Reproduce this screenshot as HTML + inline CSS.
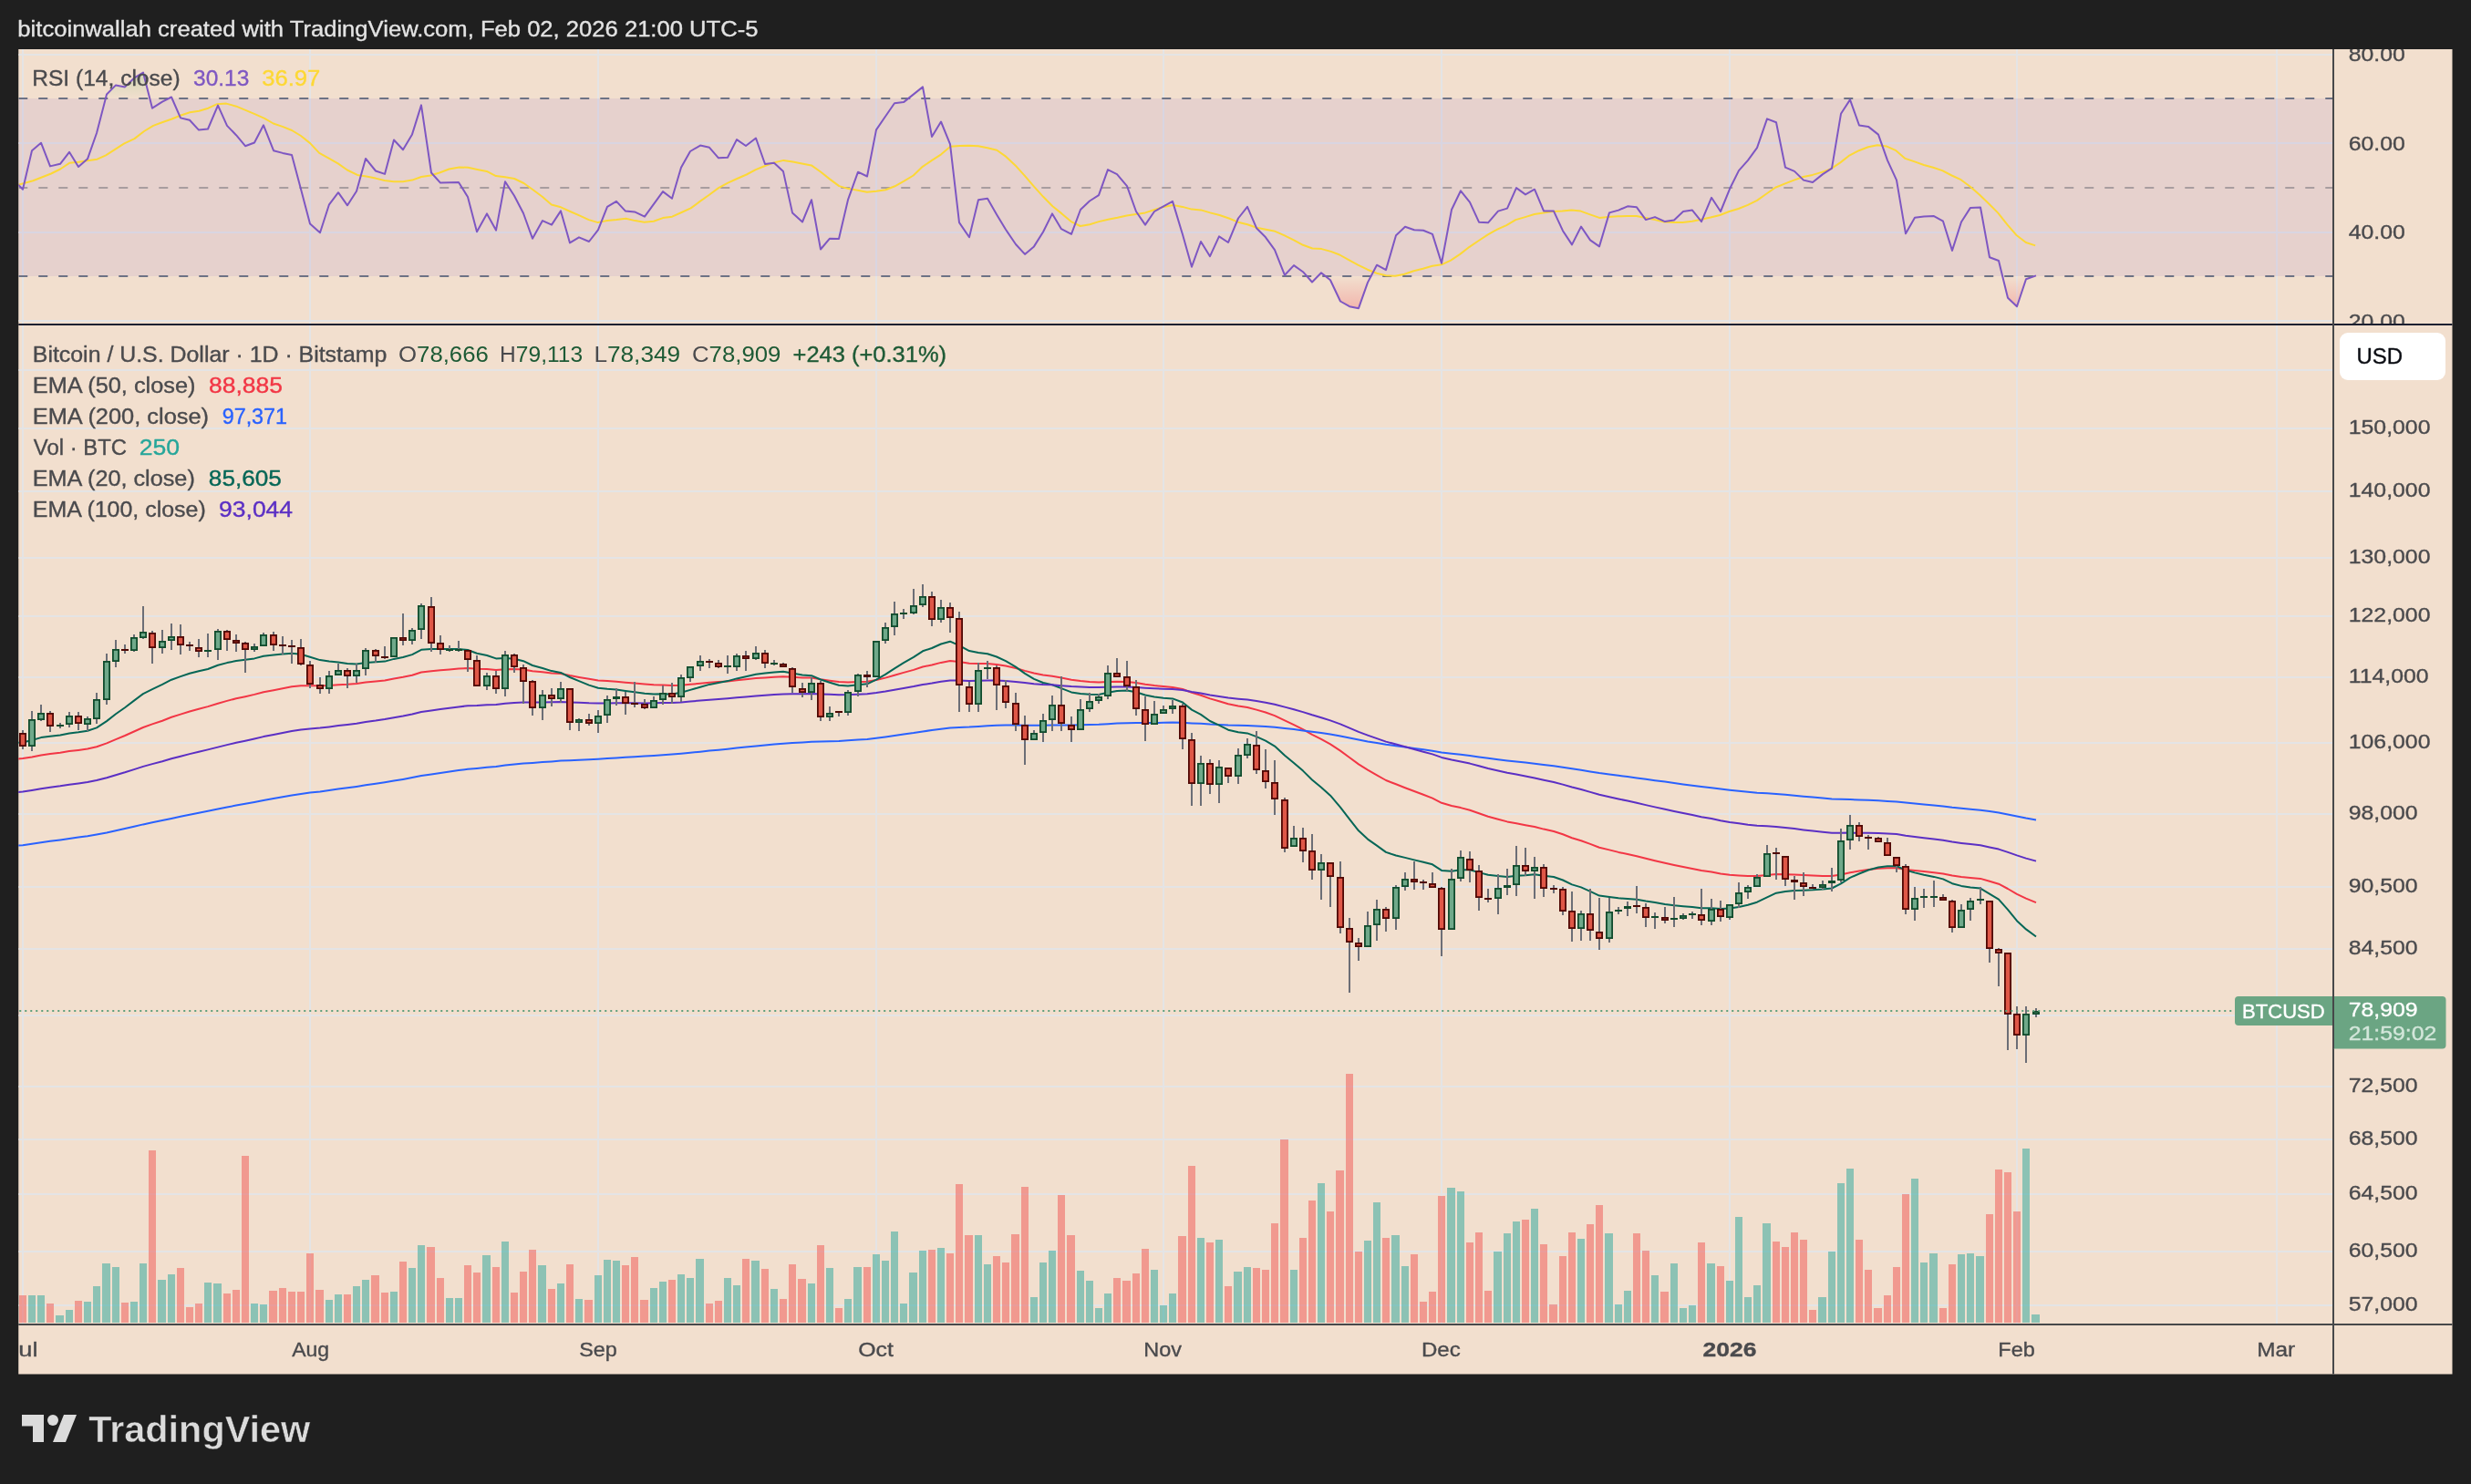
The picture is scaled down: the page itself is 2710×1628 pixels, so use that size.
<!DOCTYPE html>
<html><head><meta charset="utf-8"><title>BTCUSD</title><style>html,body{margin:0;padding:0;background:#1f1f1f;overflow:hidden}body{width:2710px;height:1628px;font-family:"Liberation Sans",sans-serif}</style></head><body>
<svg width="2710" height="1628" viewBox="0 0 2710 1628" style="display:block">
<rect x="0" y="0" width="2710" height="1628" fill="#1f1f1f"/>
<rect x="20.25" y="54" width="2669.25" height="1453.5" fill="#f2dfce"/>
<defs><clipPath id="cp"><rect x="20.25" y="54" width="2537.75" height="1399"/></clipPath><clipPath id="cr"><rect x="20.25" y="54" width="2537.75" height="301"/></clipPath><clipPath id="cm"><rect x="20.25" y="357" width="2537.75" height="1095"/></clipPath><clipPath id="ca"><rect x="2560" y="54" width="129.5" height="301"/></clipPath><clipPath id="ct"><rect x="20.25" y="1453" width="2538.75" height="54.5"/></clipPath></defs>
<g clip-path="url(#cr)">
<rect x="20.25" y="59" width="2538.75" height="2" fill="#e4e4e5"/>
<rect x="20.25" y="156" width="2538.75" height="2" fill="#e4e4e5"/>
<rect x="20.25" y="254" width="2538.75" height="2" fill="#e4e4e5"/>
<rect x="20.25" y="351" width="2538.75" height="2" fill="#e4e4e5"/>
</g>
<g clip-path="url(#cp)">
<rect x="24" y="54" width="2" height="1399" fill="#e4e4e5"/>
<rect x="339" y="54" width="2" height="1399" fill="#e4e4e5"/>
<rect x="655" y="54" width="2" height="1399" fill="#e4e4e5"/>
<rect x="960" y="54" width="2" height="1399" fill="#e4e4e5"/>
<rect x="1275" y="54" width="2" height="1399" fill="#e4e4e5"/>
<rect x="1580" y="54" width="2" height="1399" fill="#e4e4e5"/>
<rect x="1896" y="54" width="2" height="1399" fill="#e4e4e5"/>
<rect x="2211" y="54" width="2" height="1399" fill="#e4e4e5"/>
<rect x="2496" y="54" width="2" height="1399" fill="#e4e4e5"/>
</g>
<g clip-path="url(#cm)">
<rect x="20.25" y="405" width="2538.75" height="2" fill="#e4e4e5"/>
<rect x="20.25" y="469" width="2538.75" height="2" fill="#e4e4e5"/>
<rect x="20.25" y="538" width="2538.75" height="2" fill="#e4e4e5"/>
<rect x="20.25" y="611" width="2538.75" height="2" fill="#e4e4e5"/>
<rect x="20.25" y="675" width="2538.75" height="2" fill="#e4e4e5"/>
<rect x="20.25" y="742" width="2538.75" height="2" fill="#e4e4e5"/>
<rect x="20.25" y="814" width="2538.75" height="2" fill="#e4e4e5"/>
<rect x="20.25" y="892" width="2538.75" height="2" fill="#e4e4e5"/>
<rect x="20.25" y="972" width="2538.75" height="2" fill="#e4e4e5"/>
<rect x="20.25" y="1040" width="2538.75" height="2" fill="#e4e4e5"/>
<rect x="20.25" y="1113" width="2538.75" height="2" fill="#e4e4e5"/>
<rect x="20.25" y="1191" width="2538.75" height="2" fill="#e4e4e5"/>
<rect x="20.25" y="1249" width="2538.75" height="2" fill="#e4e4e5"/>
<rect x="20.25" y="1309" width="2538.75" height="2" fill="#e4e4e5"/>
<rect x="20.25" y="1372" width="2538.75" height="2" fill="#e4e4e5"/>
<rect x="20.25" y="1431" width="2538.75" height="2" fill="#e4e4e5"/>
</g>
<g clip-path="url(#cr)">
<rect x="20.25" y="108" width="2538.75" height="195" fill="#7e57c2" fill-opacity="0.1"/>
<line x1="20.25" x2="2559" y1="108" y2="108" stroke="#6d7285" stroke-width="2" stroke-dasharray="10 12"/>
<line x1="20.25" x2="2559" y1="303" y2="303" stroke="#6d7285" stroke-width="2" stroke-dasharray="10 12"/>
<line x1="20.25" x2="2559" y1="206" y2="206" stroke="#a89d9f" stroke-width="2" stroke-dasharray="10 12"/>
<defs><linearGradient id="gob" gradientUnits="userSpaceOnUse" x1="0" x2="0" y1="-37.2" y2="108.6"><stop offset="0" stop-color="#4caf50" stop-opacity="1"/><stop offset="1" stop-color="#4caf50" stop-opacity="0"/></linearGradient><linearGradient id="gos" gradientUnits="userSpaceOnUse" x1="0" x2="0" y1="303.0" y2="448.8"><stop offset="0" stop-color="#f23645" stop-opacity="0"/><stop offset="1" stop-color="#f23645" stop-opacity="1"/></linearGradient><clipPath id="cob"><rect x="0" y="0" width="2710" height="108.6"/></clipPath><clipPath id="cos"><rect x="0" y="303.0" width="2710" height="200"/></clipPath></defs>
<polygon points="15,108.6 15,197.6 25,207.7 35,165.2 45,156.7 55,182.4 66,179.8 76,166.8 86,183 96,174.3 106,146 117,103.5 127,93.4 137,95.4 147,85.7 157,79.6 167,118.7 178,111.6 188,106.5 198,129.4 208,131.8 218,142.6 228,141.5 239,115.6 249,137.9 259,148.2 269,160.2 279,156.5 289,137.3 300,165.2 310,167.9 320,169.9 330,207.5 340,245.6 351,255.3 361,224.3 371,211.2 381,225.3 391,209.7 401,173.9 412,187.5 422,190.9 432,153.5 442,164.2 452,147.4 462,115.4 473,189.5 483,200.6 493,200.2 503,200 513,216 523,254.3 534,234.4 544,252.6 554,199.2 564,214.8 574,234 584,261.7 595,242.1 605,246.6 615,231.4 625,266.4 635,260.3 646,265 656,252.2 666,226.9 676,220.9 686,231.6 696,232.4 707,237.7 717,223.9 727,210.1 737,217.8 747,183.8 757,166 768,159.6 778,161.8 788,173.3 798,172.7 808,153.1 818,160 829,151.5 839,180 849,178.8 859,188.1 869,233.4 880,243.5 890,219.2 900,273.5 910,261.7 920,261.9 930,219.2 941,188.7 951,193.5 961,142.4 971,127.8 981,113.2 991,112.1 1002,103.4 1012,95.4 1022,150 1032,133.5 1042,158.1 1052,244.1 1063,260.3 1073,219.2 1083,217.8 1093,235.2 1103,251.8 1114,268 1124,278.9 1134,270.4 1144,254.5 1154,234.4 1164,251.2 1175,256.9 1185,230 1195,220.5 1205,214.2 1215,186.1 1225,191.1 1236,204.1 1246,232 1256,246.6 1266,232 1276,226.3 1286,220.9 1297,257.3 1307,292.7 1317,265 1327,281.2 1337,259.3 1347,266 1358,239.5 1368,226.9 1378,250.2 1388,260.3 1398,274.1 1409,301.8 1419,291.1 1429,298.2 1439,309.5 1449,299.2 1459,307.3 1470,330.5 1480,336.2 1490,338.2 1500,309.9 1510,290.7 1520,296.1 1531,258.3 1541,248.8 1551,252.2 1561,252.8 1571,256.9 1581,288.7 1592,230 1602,209.3 1612,221.9 1622,243.7 1632,244.3 1643,231.6 1653,228.6 1663,206.1 1673,213.4 1683,207.7 1693,231.4 1704,231.6 1714,253.2 1724,268.4 1734,248.6 1744,263.4 1754,270.4 1765,233.4 1775,230.6 1785,226.3 1795,227.3 1805,241.1 1815,238.1 1826,243.1 1836,241.5 1846,232 1856,230.6 1866,243.1 1877,216.8 1887,232 1897,207.3 1907,187.1 1917,175.9 1927,162.2 1938,130.4 1948,134.3 1958,183.7 1968,187.9 1978,197.6 1988,200 1999,191.1 2009,184.6 2019,124.8 2029,109.4 2039,137.5 2049,138.9 2060,147.6 2070,175.9 2080,197.6 2090,256.3 2100,238.7 2110,237.5 2121,237.1 2131,242.7 2141,274.9 2151,243.5 2161,227.9 2172,227.5 2182,282.2 2192,286 2202,326.7 2212,336.2 2222,306.3 2233,302.4 2233,108.6" fill="url(#gob)" clip-path="url(#cob)"/>
<polygon points="15,303 15,197.6 25,207.7 35,165.2 45,156.7 55,182.4 66,179.8 76,166.8 86,183 96,174.3 106,146 117,103.5 127,93.4 137,95.4 147,85.7 157,79.6 167,118.7 178,111.6 188,106.5 198,129.4 208,131.8 218,142.6 228,141.5 239,115.6 249,137.9 259,148.2 269,160.2 279,156.5 289,137.3 300,165.2 310,167.9 320,169.9 330,207.5 340,245.6 351,255.3 361,224.3 371,211.2 381,225.3 391,209.7 401,173.9 412,187.5 422,190.9 432,153.5 442,164.2 452,147.4 462,115.4 473,189.5 483,200.6 493,200.2 503,200 513,216 523,254.3 534,234.4 544,252.6 554,199.2 564,214.8 574,234 584,261.7 595,242.1 605,246.6 615,231.4 625,266.4 635,260.3 646,265 656,252.2 666,226.9 676,220.9 686,231.6 696,232.4 707,237.7 717,223.9 727,210.1 737,217.8 747,183.8 757,166 768,159.6 778,161.8 788,173.3 798,172.7 808,153.1 818,160 829,151.5 839,180 849,178.8 859,188.1 869,233.4 880,243.5 890,219.2 900,273.5 910,261.7 920,261.9 930,219.2 941,188.7 951,193.5 961,142.4 971,127.8 981,113.2 991,112.1 1002,103.4 1012,95.4 1022,150 1032,133.5 1042,158.1 1052,244.1 1063,260.3 1073,219.2 1083,217.8 1093,235.2 1103,251.8 1114,268 1124,278.9 1134,270.4 1144,254.5 1154,234.4 1164,251.2 1175,256.9 1185,230 1195,220.5 1205,214.2 1215,186.1 1225,191.1 1236,204.1 1246,232 1256,246.6 1266,232 1276,226.3 1286,220.9 1297,257.3 1307,292.7 1317,265 1327,281.2 1337,259.3 1347,266 1358,239.5 1368,226.9 1378,250.2 1388,260.3 1398,274.1 1409,301.8 1419,291.1 1429,298.2 1439,309.5 1449,299.2 1459,307.3 1470,330.5 1480,336.2 1490,338.2 1500,309.9 1510,290.7 1520,296.1 1531,258.3 1541,248.8 1551,252.2 1561,252.8 1571,256.9 1581,288.7 1592,230 1602,209.3 1612,221.9 1622,243.7 1632,244.3 1643,231.6 1653,228.6 1663,206.1 1673,213.4 1683,207.7 1693,231.4 1704,231.6 1714,253.2 1724,268.4 1734,248.6 1744,263.4 1754,270.4 1765,233.4 1775,230.6 1785,226.3 1795,227.3 1805,241.1 1815,238.1 1826,243.1 1836,241.5 1846,232 1856,230.6 1866,243.1 1877,216.8 1887,232 1897,207.3 1907,187.1 1917,175.9 1927,162.2 1938,130.4 1948,134.3 1958,183.7 1968,187.9 1978,197.6 1988,200 1999,191.1 2009,184.6 2019,124.8 2029,109.4 2039,137.5 2049,138.9 2060,147.6 2070,175.9 2080,197.6 2090,256.3 2100,238.7 2110,237.5 2121,237.1 2131,242.7 2141,274.9 2151,243.5 2161,227.9 2172,227.5 2182,282.2 2192,286 2202,326.7 2212,336.2 2222,306.3 2233,302.4 2233,303" fill="url(#gos)" clip-path="url(#cos)"/>
<polyline points="20,202.7 36.2,198.2 56,190.5 66.1,185.5 76.1,178.8 86.2,177.8 95.9,176.3 106.6,174.7 116.1,170.3 126.2,163.8 135.9,157.7 147.5,152.1 158,144 168.1,137.9 177.8,134.3 187.9,130.8 197.7,126.8 208.2,123.3 218.3,121.7 228.4,118.7 238.1,114.2 248.2,113.6 259.2,116.7 269.9,121.1 280,125.4 290.1,129.8 299.8,135.5 309.8,138.9 320.1,143 330,149 340.1,157.1 350.2,167.9 360.6,173.7 370.7,179.4 380.8,186.5 391.9,191.9 401.8,193.5 411.9,195.6 421.7,198 431.8,199.2 441.9,199.2 452,197.6 462.1,194 472.2,192.5 482,189.5 492.5,185.5 503.6,183.4 513.4,183.8 523.5,185.9 533.8,187.9 543.9,193.1 554,194.2 564.1,196 574.5,201 584.6,208.3 594.7,215.8 604.8,224.5 615.1,227.3 625.3,232 635.4,236.4 645.7,241.1 655.8,244.1 665.9,242.1 676.2,241.1 686.4,239.7 696.5,242.1 706.6,243.7 716.9,242.7 727,239.1 737.2,237.7 747.5,233 757.6,228.4 767.7,220.9 777.8,213.8 788.1,206.1 798.3,200.6 808.4,196 818.7,191.5 828.8,186.1 838.9,182 849,178.4 859.4,175.9 869.5,177.4 879.6,179.4 889.9,181.4 900,188.5 910.2,196.6 920.3,204.1 930.6,207.1 940.7,208.7 950.8,210.7 961.1,209.7 971.3,208.3 981.4,204.3 991.5,198.6 1001.7,192.5 1011.8,182.8 1022.1,175.9 1032.2,169.3 1042.3,160.8 1052.4,160 1062.8,159.8 1072.9,160.2 1083,162.2 1093.3,164.8 1103.4,171.9 1113.5,181.4 1123.9,192.9 1134,204.7 1144.1,215.8 1154.4,226.3 1164.5,234.4 1174.7,243.1 1184.8,248 1195.1,246.2 1205.2,243.1 1215.3,240.7 1225.6,238.7 1235.8,236.4 1245.9,235 1256,233.4 1266.3,230 1276.4,226.9 1286.6,224.9 1296.9,226.9 1307,229.6 1317.1,230.4 1327.2,233.4 1337.5,236 1347.7,239.5 1357.8,243.7 1368.1,246.2 1378.2,249.8 1388.3,251.8 1398.5,253.8 1408.8,258.3 1418.9,263.4 1429,268.8 1439.3,272.5 1449.4,273.1 1459.6,275.9 1469.1,279.5 1479.2,285.2 1489.3,290.7 1499.7,295.7 1509.8,299.8 1519.9,302.2 1530.2,302.8 1540.3,300.8 1550.4,297.2 1560.6,294.7 1570.9,291.7 1581,290.3 1591.1,285.6 1601.2,278.9 1611.6,270.8 1621.7,264 1631.8,257.3 1642.1,251.6 1652.2,247.2 1662.3,241.1 1672.7,238.1 1682.8,235 1692.9,233.4 1703,232 1713.3,231.6 1723.5,230.4 1733.6,231.6 1743.9,235.4 1754,238.9 1764.1,238.1 1774.2,237.3 1784.6,237.1 1794.7,237.1 1804.8,239.1 1815.1,241.1 1825.2,243.5 1835.4,244.1 1845.5,244.1 1855.8,242.7 1865.9,240.7 1876,238.5 1886.3,236 1896.5,232 1906.6,229 1916.9,224.9 1927,219.9 1937.1,212.8 1947.1,205.7 1957.2,201.6 1967.5,197.6 1977.6,194 1987.8,191.9 1998.1,188.9 2008.2,185.1 2018.3,178.4 2028.6,170.3 2038.7,165.2 2048.9,161.2 2059,159.2 2069.3,160.6 2079.4,165.2 2089.5,173.9 2099.9,177.4 2110,181 2120.1,183.8 2130.2,187.1 2140.5,192.5 2150.6,197.2 2160.8,204.7 2171.1,213.8 2181.2,223.5 2191.3,233.6 2201.6,246.6 2211.8,258.3 2221.9,266 2232.2,269.4" fill="none" stroke="#fdd835" stroke-width="2" stroke-linejoin="round" stroke-linecap="butt"/>
<polyline points="15,197.6 25,207.7 35,165.2 45,156.7 55,182.4 66,179.8 76,166.8 86,183 96,174.3 106,146 117,103.5 127,93.4 137,95.4 147,85.7 157,79.6 167,118.7 178,111.6 188,106.5 198,129.4 208,131.8 218,142.6 228,141.5 239,115.6 249,137.9 259,148.2 269,160.2 279,156.5 289,137.3 300,165.2 310,167.9 320,169.9 330,207.5 340,245.6 351,255.3 361,224.3 371,211.2 381,225.3 391,209.7 401,173.9 412,187.5 422,190.9 432,153.5 442,164.2 452,147.4 462,115.4 473,189.5 483,200.6 493,200.2 503,200 513,216 523,254.3 534,234.4 544,252.6 554,199.2 564,214.8 574,234 584,261.7 595,242.1 605,246.6 615,231.4 625,266.4 635,260.3 646,265 656,252.2 666,226.9 676,220.9 686,231.6 696,232.4 707,237.7 717,223.9 727,210.1 737,217.8 747,183.8 757,166 768,159.6 778,161.8 788,173.3 798,172.7 808,153.1 818,160 829,151.5 839,180 849,178.8 859,188.1 869,233.4 880,243.5 890,219.2 900,273.5 910,261.7 920,261.9 930,219.2 941,188.7 951,193.5 961,142.4 971,127.8 981,113.2 991,112.1 1002,103.4 1012,95.4 1022,150 1032,133.5 1042,158.1 1052,244.1 1063,260.3 1073,219.2 1083,217.8 1093,235.2 1103,251.8 1114,268 1124,278.9 1134,270.4 1144,254.5 1154,234.4 1164,251.2 1175,256.9 1185,230 1195,220.5 1205,214.2 1215,186.1 1225,191.1 1236,204.1 1246,232 1256,246.6 1266,232 1276,226.3 1286,220.9 1297,257.3 1307,292.7 1317,265 1327,281.2 1337,259.3 1347,266 1358,239.5 1368,226.9 1378,250.2 1388,260.3 1398,274.1 1409,301.8 1419,291.1 1429,298.2 1439,309.5 1449,299.2 1459,307.3 1470,330.5 1480,336.2 1490,338.2 1500,309.9 1510,290.7 1520,296.1 1531,258.3 1541,248.8 1551,252.2 1561,252.8 1571,256.9 1581,288.7 1592,230 1602,209.3 1612,221.9 1622,243.7 1632,244.3 1643,231.6 1653,228.6 1663,206.1 1673,213.4 1683,207.7 1693,231.4 1704,231.6 1714,253.2 1724,268.4 1734,248.6 1744,263.4 1754,270.4 1765,233.4 1775,230.6 1785,226.3 1795,227.3 1805,241.1 1815,238.1 1826,243.1 1836,241.5 1846,232 1856,230.6 1866,243.1 1877,216.8 1887,232 1897,207.3 1907,187.1 1917,175.9 1927,162.2 1938,130.4 1948,134.3 1958,183.7 1968,187.9 1978,197.6 1988,200 1999,191.1 2009,184.6 2019,124.8 2029,109.4 2039,137.5 2049,138.9 2060,147.6 2070,175.9 2080,197.6 2090,256.3 2100,238.7 2110,237.5 2121,237.1 2131,242.7 2141,274.9 2151,243.5 2161,227.9 2172,227.5 2182,282.2 2192,286 2202,326.7 2212,336.2 2222,306.3 2233,302.4" fill="none" stroke="#7e57c2" stroke-width="2" stroke-linejoin="round"/>
</g>
<g clip-path="url(#cm)">
<rect x="21" y="1421" width="8" height="30" fill="#ef5350" fill-opacity="0.5"/>
<rect x="31" y="1421" width="8" height="30" fill="#26a69a" fill-opacity="0.5"/>
<rect x="41" y="1421" width="8" height="30" fill="#26a69a" fill-opacity="0.5"/>
<rect x="51" y="1430" width="8" height="21" fill="#ef5350" fill-opacity="0.5"/>
<rect x="61" y="1443" width="9" height="8" fill="#26a69a" fill-opacity="0.5"/>
<rect x="72" y="1437" width="8" height="14" fill="#26a69a" fill-opacity="0.5"/>
<rect x="82" y="1427" width="8" height="24" fill="#ef5350" fill-opacity="0.5"/>
<rect x="92" y="1428" width="8" height="23" fill="#26a69a" fill-opacity="0.5"/>
<rect x="102" y="1411" width="8" height="40" fill="#26a69a" fill-opacity="0.5"/>
<rect x="112" y="1386" width="9" height="65" fill="#26a69a" fill-opacity="0.5"/>
<rect x="123" y="1390" width="8" height="61" fill="#26a69a" fill-opacity="0.5"/>
<rect x="133" y="1429" width="8" height="22" fill="#ef5350" fill-opacity="0.5"/>
<rect x="143" y="1428" width="8" height="23" fill="#26a69a" fill-opacity="0.5"/>
<rect x="153" y="1386" width="8" height="65" fill="#26a69a" fill-opacity="0.5"/>
<rect x="163" y="1262" width="8" height="189" fill="#ef5350" fill-opacity="0.5"/>
<rect x="173" y="1404" width="9" height="47" fill="#26a69a" fill-opacity="0.5"/>
<rect x="184" y="1398" width="8" height="53" fill="#26a69a" fill-opacity="0.5"/>
<rect x="194" y="1391" width="8" height="60" fill="#ef5350" fill-opacity="0.5"/>
<rect x="204" y="1434" width="8" height="17" fill="#ef5350" fill-opacity="0.5"/>
<rect x="214" y="1430" width="8" height="21" fill="#ef5350" fill-opacity="0.5"/>
<rect x="224" y="1407" width="8" height="44" fill="#26a69a" fill-opacity="0.5"/>
<rect x="234" y="1408" width="9" height="43" fill="#26a69a" fill-opacity="0.5"/>
<rect x="245" y="1419" width="8" height="32" fill="#ef5350" fill-opacity="0.5"/>
<rect x="255" y="1415" width="8" height="36" fill="#ef5350" fill-opacity="0.5"/>
<rect x="265" y="1268" width="8" height="183" fill="#ef5350" fill-opacity="0.5"/>
<rect x="275" y="1430" width="8" height="21" fill="#26a69a" fill-opacity="0.5"/>
<rect x="285" y="1431" width="8" height="20" fill="#26a69a" fill-opacity="0.5"/>
<rect x="295" y="1416" width="9" height="35" fill="#ef5350" fill-opacity="0.5"/>
<rect x="306" y="1413" width="8" height="38" fill="#ef5350" fill-opacity="0.5"/>
<rect x="316" y="1417" width="8" height="34" fill="#ef5350" fill-opacity="0.5"/>
<rect x="326" y="1417" width="8" height="34" fill="#ef5350" fill-opacity="0.5"/>
<rect x="336" y="1375" width="8" height="76" fill="#ef5350" fill-opacity="0.5"/>
<rect x="346" y="1415" width="9" height="36" fill="#ef5350" fill-opacity="0.5"/>
<rect x="357" y="1426" width="8" height="25" fill="#26a69a" fill-opacity="0.5"/>
<rect x="367" y="1420" width="8" height="31" fill="#26a69a" fill-opacity="0.5"/>
<rect x="377" y="1420" width="8" height="31" fill="#ef5350" fill-opacity="0.5"/>
<rect x="387" y="1411" width="8" height="40" fill="#26a69a" fill-opacity="0.5"/>
<rect x="397" y="1404" width="8" height="47" fill="#26a69a" fill-opacity="0.5"/>
<rect x="407" y="1399" width="9" height="52" fill="#ef5350" fill-opacity="0.5"/>
<rect x="418" y="1418" width="8" height="33" fill="#ef5350" fill-opacity="0.5"/>
<rect x="428" y="1417" width="8" height="34" fill="#26a69a" fill-opacity="0.5"/>
<rect x="438" y="1384" width="8" height="67" fill="#ef5350" fill-opacity="0.5"/>
<rect x="448" y="1391" width="8" height="60" fill="#26a69a" fill-opacity="0.5"/>
<rect x="458" y="1366" width="8" height="85" fill="#26a69a" fill-opacity="0.5"/>
<rect x="468" y="1368" width="9" height="83" fill="#ef5350" fill-opacity="0.5"/>
<rect x="479" y="1402" width="8" height="49" fill="#ef5350" fill-opacity="0.5"/>
<rect x="489" y="1424" width="8" height="27" fill="#26a69a" fill-opacity="0.5"/>
<rect x="499" y="1424" width="8" height="27" fill="#26a69a" fill-opacity="0.5"/>
<rect x="509" y="1388" width="8" height="63" fill="#ef5350" fill-opacity="0.5"/>
<rect x="519" y="1396" width="8" height="55" fill="#ef5350" fill-opacity="0.5"/>
<rect x="529" y="1377" width="9" height="74" fill="#26a69a" fill-opacity="0.5"/>
<rect x="540" y="1390" width="8" height="61" fill="#ef5350" fill-opacity="0.5"/>
<rect x="550" y="1362" width="8" height="89" fill="#26a69a" fill-opacity="0.5"/>
<rect x="560" y="1418" width="8" height="33" fill="#ef5350" fill-opacity="0.5"/>
<rect x="570" y="1395" width="8" height="56" fill="#ef5350" fill-opacity="0.5"/>
<rect x="580" y="1371" width="8" height="80" fill="#ef5350" fill-opacity="0.5"/>
<rect x="590" y="1388" width="9" height="63" fill="#26a69a" fill-opacity="0.5"/>
<rect x="601" y="1414" width="8" height="37" fill="#ef5350" fill-opacity="0.5"/>
<rect x="611" y="1408" width="8" height="43" fill="#26a69a" fill-opacity="0.5"/>
<rect x="621" y="1387" width="8" height="64" fill="#ef5350" fill-opacity="0.5"/>
<rect x="631" y="1425" width="8" height="26" fill="#26a69a" fill-opacity="0.5"/>
<rect x="641" y="1426" width="9" height="25" fill="#ef5350" fill-opacity="0.5"/>
<rect x="652" y="1399" width="8" height="52" fill="#26a69a" fill-opacity="0.5"/>
<rect x="662" y="1382" width="8" height="69" fill="#26a69a" fill-opacity="0.5"/>
<rect x="672" y="1383" width="8" height="68" fill="#26a69a" fill-opacity="0.5"/>
<rect x="682" y="1388" width="8" height="63" fill="#ef5350" fill-opacity="0.5"/>
<rect x="692" y="1379" width="8" height="72" fill="#ef5350" fill-opacity="0.5"/>
<rect x="702" y="1426" width="9" height="25" fill="#ef5350" fill-opacity="0.5"/>
<rect x="713" y="1413" width="8" height="38" fill="#26a69a" fill-opacity="0.5"/>
<rect x="723" y="1406" width="8" height="45" fill="#26a69a" fill-opacity="0.5"/>
<rect x="733" y="1404" width="8" height="47" fill="#ef5350" fill-opacity="0.5"/>
<rect x="743" y="1398" width="8" height="53" fill="#26a69a" fill-opacity="0.5"/>
<rect x="753" y="1402" width="8" height="49" fill="#26a69a" fill-opacity="0.5"/>
<rect x="763" y="1381" width="9" height="70" fill="#26a69a" fill-opacity="0.5"/>
<rect x="774" y="1430" width="8" height="21" fill="#ef5350" fill-opacity="0.5"/>
<rect x="784" y="1427" width="8" height="24" fill="#ef5350" fill-opacity="0.5"/>
<rect x="794" y="1402" width="8" height="49" fill="#26a69a" fill-opacity="0.5"/>
<rect x="804" y="1410" width="8" height="41" fill="#26a69a" fill-opacity="0.5"/>
<rect x="814" y="1381" width="8" height="70" fill="#ef5350" fill-opacity="0.5"/>
<rect x="824" y="1383" width="9" height="68" fill="#26a69a" fill-opacity="0.5"/>
<rect x="835" y="1392" width="8" height="59" fill="#ef5350" fill-opacity="0.5"/>
<rect x="845" y="1414" width="8" height="37" fill="#26a69a" fill-opacity="0.5"/>
<rect x="855" y="1425" width="8" height="26" fill="#ef5350" fill-opacity="0.5"/>
<rect x="865" y="1387" width="8" height="64" fill="#ef5350" fill-opacity="0.5"/>
<rect x="875" y="1403" width="9" height="48" fill="#ef5350" fill-opacity="0.5"/>
<rect x="886" y="1408" width="8" height="43" fill="#26a69a" fill-opacity="0.5"/>
<rect x="896" y="1366" width="8" height="85" fill="#ef5350" fill-opacity="0.5"/>
<rect x="906" y="1391" width="8" height="60" fill="#26a69a" fill-opacity="0.5"/>
<rect x="916" y="1435" width="8" height="16" fill="#ef5350" fill-opacity="0.5"/>
<rect x="926" y="1425" width="8" height="26" fill="#26a69a" fill-opacity="0.5"/>
<rect x="936" y="1390" width="9" height="61" fill="#26a69a" fill-opacity="0.5"/>
<rect x="947" y="1390" width="8" height="61" fill="#ef5350" fill-opacity="0.5"/>
<rect x="957" y="1376" width="8" height="75" fill="#26a69a" fill-opacity="0.5"/>
<rect x="967" y="1383" width="8" height="68" fill="#26a69a" fill-opacity="0.5"/>
<rect x="977" y="1351" width="8" height="100" fill="#26a69a" fill-opacity="0.5"/>
<rect x="987" y="1430" width="8" height="21" fill="#26a69a" fill-opacity="0.5"/>
<rect x="997" y="1396" width="9" height="55" fill="#26a69a" fill-opacity="0.5"/>
<rect x="1008" y="1372" width="8" height="79" fill="#26a69a" fill-opacity="0.5"/>
<rect x="1018" y="1371" width="8" height="80" fill="#ef5350" fill-opacity="0.5"/>
<rect x="1028" y="1369" width="8" height="82" fill="#26a69a" fill-opacity="0.5"/>
<rect x="1038" y="1375" width="8" height="76" fill="#ef5350" fill-opacity="0.5"/>
<rect x="1048" y="1299" width="8" height="152" fill="#ef5350" fill-opacity="0.5"/>
<rect x="1058" y="1355" width="9" height="96" fill="#ef5350" fill-opacity="0.5"/>
<rect x="1069" y="1355" width="8" height="96" fill="#26a69a" fill-opacity="0.5"/>
<rect x="1079" y="1387" width="8" height="64" fill="#26a69a" fill-opacity="0.5"/>
<rect x="1089" y="1378" width="8" height="73" fill="#ef5350" fill-opacity="0.5"/>
<rect x="1099" y="1385" width="8" height="66" fill="#ef5350" fill-opacity="0.5"/>
<rect x="1109" y="1354" width="9" height="97" fill="#ef5350" fill-opacity="0.5"/>
<rect x="1120" y="1302" width="8" height="149" fill="#ef5350" fill-opacity="0.5"/>
<rect x="1130" y="1423" width="8" height="28" fill="#26a69a" fill-opacity="0.5"/>
<rect x="1140" y="1385" width="8" height="66" fill="#26a69a" fill-opacity="0.5"/>
<rect x="1150" y="1372" width="8" height="79" fill="#26a69a" fill-opacity="0.5"/>
<rect x="1160" y="1311" width="8" height="140" fill="#ef5350" fill-opacity="0.5"/>
<rect x="1170" y="1355" width="9" height="96" fill="#ef5350" fill-opacity="0.5"/>
<rect x="1181" y="1394" width="8" height="57" fill="#26a69a" fill-opacity="0.5"/>
<rect x="1191" y="1405" width="8" height="46" fill="#26a69a" fill-opacity="0.5"/>
<rect x="1201" y="1435" width="8" height="16" fill="#26a69a" fill-opacity="0.5"/>
<rect x="1211" y="1419" width="8" height="32" fill="#26a69a" fill-opacity="0.5"/>
<rect x="1221" y="1402" width="8" height="49" fill="#ef5350" fill-opacity="0.5"/>
<rect x="1231" y="1405" width="9" height="46" fill="#ef5350" fill-opacity="0.5"/>
<rect x="1242" y="1397" width="8" height="54" fill="#ef5350" fill-opacity="0.5"/>
<rect x="1252" y="1370" width="8" height="81" fill="#ef5350" fill-opacity="0.5"/>
<rect x="1262" y="1393" width="8" height="58" fill="#26a69a" fill-opacity="0.5"/>
<rect x="1272" y="1432" width="8" height="19" fill="#26a69a" fill-opacity="0.5"/>
<rect x="1282" y="1419" width="8" height="32" fill="#26a69a" fill-opacity="0.5"/>
<rect x="1292" y="1356" width="9" height="95" fill="#ef5350" fill-opacity="0.5"/>
<rect x="1303" y="1279" width="8" height="172" fill="#ef5350" fill-opacity="0.5"/>
<rect x="1313" y="1358" width="8" height="93" fill="#26a69a" fill-opacity="0.5"/>
<rect x="1323" y="1363" width="8" height="88" fill="#ef5350" fill-opacity="0.5"/>
<rect x="1333" y="1360" width="8" height="91" fill="#26a69a" fill-opacity="0.5"/>
<rect x="1343" y="1411" width="8" height="40" fill="#ef5350" fill-opacity="0.5"/>
<rect x="1353" y="1395" width="9" height="56" fill="#26a69a" fill-opacity="0.5"/>
<rect x="1364" y="1390" width="8" height="61" fill="#26a69a" fill-opacity="0.5"/>
<rect x="1374" y="1391" width="8" height="60" fill="#ef5350" fill-opacity="0.5"/>
<rect x="1384" y="1393" width="8" height="58" fill="#ef5350" fill-opacity="0.5"/>
<rect x="1394" y="1342" width="8" height="109" fill="#ef5350" fill-opacity="0.5"/>
<rect x="1404" y="1250" width="9" height="201" fill="#ef5350" fill-opacity="0.5"/>
<rect x="1415" y="1393" width="8" height="58" fill="#26a69a" fill-opacity="0.5"/>
<rect x="1425" y="1358" width="8" height="93" fill="#ef5350" fill-opacity="0.5"/>
<rect x="1435" y="1317" width="8" height="134" fill="#ef5350" fill-opacity="0.5"/>
<rect x="1445" y="1298" width="8" height="153" fill="#26a69a" fill-opacity="0.5"/>
<rect x="1455" y="1329" width="8" height="122" fill="#ef5350" fill-opacity="0.5"/>
<rect x="1465" y="1284" width="9" height="167" fill="#ef5350" fill-opacity="0.5"/>
<rect x="1476" y="1178" width="8" height="273" fill="#ef5350" fill-opacity="0.5"/>
<rect x="1486" y="1373" width="8" height="78" fill="#ef5350" fill-opacity="0.5"/>
<rect x="1496" y="1361" width="8" height="90" fill="#26a69a" fill-opacity="0.5"/>
<rect x="1506" y="1319" width="8" height="132" fill="#26a69a" fill-opacity="0.5"/>
<rect x="1516" y="1358" width="8" height="93" fill="#ef5350" fill-opacity="0.5"/>
<rect x="1526" y="1355" width="9" height="96" fill="#26a69a" fill-opacity="0.5"/>
<rect x="1537" y="1389" width="8" height="62" fill="#26a69a" fill-opacity="0.5"/>
<rect x="1547" y="1376" width="8" height="75" fill="#ef5350" fill-opacity="0.5"/>
<rect x="1557" y="1428" width="8" height="23" fill="#ef5350" fill-opacity="0.5"/>
<rect x="1567" y="1417" width="8" height="34" fill="#ef5350" fill-opacity="0.5"/>
<rect x="1577" y="1312" width="8" height="139" fill="#ef5350" fill-opacity="0.5"/>
<rect x="1587" y="1303" width="9" height="148" fill="#26a69a" fill-opacity="0.5"/>
<rect x="1598" y="1307" width="8" height="144" fill="#26a69a" fill-opacity="0.5"/>
<rect x="1608" y="1363" width="8" height="88" fill="#ef5350" fill-opacity="0.5"/>
<rect x="1618" y="1352" width="8" height="99" fill="#ef5350" fill-opacity="0.5"/>
<rect x="1628" y="1416" width="8" height="35" fill="#ef5350" fill-opacity="0.5"/>
<rect x="1638" y="1373" width="9" height="78" fill="#26a69a" fill-opacity="0.5"/>
<rect x="1649" y="1353" width="8" height="98" fill="#26a69a" fill-opacity="0.5"/>
<rect x="1659" y="1340" width="8" height="111" fill="#26a69a" fill-opacity="0.5"/>
<rect x="1669" y="1338" width="8" height="113" fill="#ef5350" fill-opacity="0.5"/>
<rect x="1679" y="1326" width="8" height="125" fill="#26a69a" fill-opacity="0.5"/>
<rect x="1689" y="1365" width="8" height="86" fill="#ef5350" fill-opacity="0.5"/>
<rect x="1699" y="1431" width="9" height="20" fill="#ef5350" fill-opacity="0.5"/>
<rect x="1710" y="1378" width="8" height="73" fill="#ef5350" fill-opacity="0.5"/>
<rect x="1720" y="1352" width="8" height="99" fill="#ef5350" fill-opacity="0.5"/>
<rect x="1730" y="1359" width="8" height="92" fill="#26a69a" fill-opacity="0.5"/>
<rect x="1740" y="1343" width="8" height="108" fill="#ef5350" fill-opacity="0.5"/>
<rect x="1750" y="1322" width="8" height="129" fill="#ef5350" fill-opacity="0.5"/>
<rect x="1760" y="1353" width="9" height="98" fill="#26a69a" fill-opacity="0.5"/>
<rect x="1771" y="1431" width="8" height="20" fill="#26a69a" fill-opacity="0.5"/>
<rect x="1781" y="1416" width="8" height="35" fill="#26a69a" fill-opacity="0.5"/>
<rect x="1791" y="1353" width="8" height="98" fill="#ef5350" fill-opacity="0.5"/>
<rect x="1801" y="1372" width="8" height="79" fill="#ef5350" fill-opacity="0.5"/>
<rect x="1811" y="1399" width="8" height="52" fill="#26a69a" fill-opacity="0.5"/>
<rect x="1821" y="1417" width="9" height="34" fill="#ef5350" fill-opacity="0.5"/>
<rect x="1832" y="1386" width="8" height="65" fill="#26a69a" fill-opacity="0.5"/>
<rect x="1842" y="1435" width="8" height="16" fill="#26a69a" fill-opacity="0.5"/>
<rect x="1852" y="1432" width="8" height="19" fill="#26a69a" fill-opacity="0.5"/>
<rect x="1862" y="1363" width="8" height="88" fill="#ef5350" fill-opacity="0.5"/>
<rect x="1872" y="1386" width="9" height="65" fill="#26a69a" fill-opacity="0.5"/>
<rect x="1883" y="1389" width="8" height="62" fill="#ef5350" fill-opacity="0.5"/>
<rect x="1893" y="1405" width="8" height="46" fill="#26a69a" fill-opacity="0.5"/>
<rect x="1903" y="1335" width="8" height="116" fill="#26a69a" fill-opacity="0.5"/>
<rect x="1913" y="1423" width="8" height="28" fill="#26a69a" fill-opacity="0.5"/>
<rect x="1923" y="1410" width="8" height="41" fill="#26a69a" fill-opacity="0.5"/>
<rect x="1933" y="1342" width="9" height="109" fill="#26a69a" fill-opacity="0.5"/>
<rect x="1944" y="1362" width="8" height="89" fill="#ef5350" fill-opacity="0.5"/>
<rect x="1954" y="1368" width="8" height="83" fill="#ef5350" fill-opacity="0.5"/>
<rect x="1964" y="1352" width="8" height="99" fill="#ef5350" fill-opacity="0.5"/>
<rect x="1974" y="1360" width="8" height="91" fill="#ef5350" fill-opacity="0.5"/>
<rect x="1984" y="1437" width="8" height="14" fill="#ef5350" fill-opacity="0.5"/>
<rect x="1994" y="1423" width="9" height="28" fill="#26a69a" fill-opacity="0.5"/>
<rect x="2005" y="1373" width="8" height="78" fill="#26a69a" fill-opacity="0.5"/>
<rect x="2015" y="1298" width="8" height="153" fill="#26a69a" fill-opacity="0.5"/>
<rect x="2025" y="1282" width="8" height="169" fill="#26a69a" fill-opacity="0.5"/>
<rect x="2035" y="1360" width="8" height="91" fill="#ef5350" fill-opacity="0.5"/>
<rect x="2045" y="1393" width="8" height="58" fill="#ef5350" fill-opacity="0.5"/>
<rect x="2055" y="1435" width="9" height="16" fill="#ef5350" fill-opacity="0.5"/>
<rect x="2066" y="1421" width="8" height="30" fill="#ef5350" fill-opacity="0.5"/>
<rect x="2076" y="1390" width="8" height="61" fill="#ef5350" fill-opacity="0.5"/>
<rect x="2086" y="1310" width="8" height="141" fill="#ef5350" fill-opacity="0.5"/>
<rect x="2096" y="1293" width="8" height="158" fill="#26a69a" fill-opacity="0.5"/>
<rect x="2106" y="1385" width="8" height="66" fill="#26a69a" fill-opacity="0.5"/>
<rect x="2116" y="1375" width="9" height="76" fill="#26a69a" fill-opacity="0.5"/>
<rect x="2127" y="1435" width="8" height="16" fill="#ef5350" fill-opacity="0.5"/>
<rect x="2137" y="1387" width="8" height="64" fill="#ef5350" fill-opacity="0.5"/>
<rect x="2147" y="1376" width="8" height="75" fill="#26a69a" fill-opacity="0.5"/>
<rect x="2157" y="1375" width="8" height="76" fill="#26a69a" fill-opacity="0.5"/>
<rect x="2167" y="1378" width="9" height="73" fill="#26a69a" fill-opacity="0.5"/>
<rect x="2178" y="1332" width="8" height="119" fill="#ef5350" fill-opacity="0.5"/>
<rect x="2188" y="1283" width="8" height="168" fill="#ef5350" fill-opacity="0.5"/>
<rect x="2198" y="1286" width="8" height="165" fill="#ef5350" fill-opacity="0.5"/>
<rect x="2208" y="1329" width="8" height="122" fill="#ef5350" fill-opacity="0.5"/>
<rect x="2218" y="1260" width="8" height="191" fill="#26a69a" fill-opacity="0.5"/>
<rect x="2228" y="1442" width="9" height="9" fill="#26a69a" fill-opacity="0.5"/>
<polyline points="15,832.8 25,832.1 35,830.4 45,828.4 55,827.1 66,825.8 76,824.1 86,822.9 96,821.5 106,819.3 117,815.4 127,811.1 137,807 147,802.5 157,798 167,794.4 178,790.7 188,786.8 198,783.6 208,780.5 218,777.8 228,775.1 239,771.7 249,768.9 259,766.3 269,764.2 279,761.9 289,759.2 300,757.2 310,755.2 320,753.3 330,752.3 340,752.2 351,752.3 361,751.9 371,751.2 381,750.8 391,750.1 401,748.6 412,747.5 422,746.4 432,744.4 442,742.8 452,740.7 462,737.5 473,736.2 483,735.3 493,734.4 503,733.5 513,733 523,733.8 534,734.1 544,734.9 554,734.2 564,734.1 574,734.6 584,736.3 595,737.2 605,738.4 615,739 625,741.1 635,742.9 646,744.8 656,746.4 666,747.1 676,747.8 686,748.7 696,749.6 707,750.6 717,751.3 727,751.6 737,752.1 747,751.7 757,750.8 768,749.8 778,748.8 788,748.1 798,747.4 808,746.2 818,745.3 829,744.1 839,743.4 849,742.8 859,742.3 869,742.8 880,743.4 890,743.6 900,745.3 910,746.7 920,748 930,748.4 941,748.1 951,747.8 961,746 971,743.6 981,740.7 991,737.9 1002,734.9 1012,731.5 1022,729.5 1032,726.9 1042,724.9 1052,725.9 1063,727.7 1073,727.9 1083,728 1093,728.9 1103,730.5 1114,733 1124,735.9 1134,738.5 1144,740.4 1154,741.7 1164,743.6 1175,745.8 1185,747 1195,747.9 1205,748.5 1215,748.1 1225,747.8 1236,748 1246,749.1 1256,750.8 1266,752.1 1276,753.1 1286,753.9 1297,756 1307,759.8 1317,762.7 1327,766.4 1337,769.2 1347,772.3 1358,774.4 1368,776 1378,778.6 1388,781.5 1398,785.1 1409,790.4 1419,795.1 1429,800.2 1439,805.8 1449,810.9 1459,816.4 1470,823.6 1480,831 1490,838.4 1500,844.7 1510,850.3 1520,856 1531,860.3 1541,864.2 1551,868 1561,871.8 1571,875.6 1581,880.8 1592,884 1602,886.1 1612,888.7 1622,892.3 1632,895.7 1643,898.7 1653,901.4 1663,903.2 1673,905.2 1683,907 1693,909.6 1704,912 1714,915.3 1724,919.2 1734,922.3 1744,925.9 1754,929.8 1765,932.4 1775,934.9 1785,937.1 1795,939.2 1805,941.8 1815,944.2 1826,946.7 1836,948.9 1846,951 1856,952.9 1866,955.1 1877,956.6 1887,958.5 1897,959.8 1907,960.5 1917,961 1927,961 1938,960 1948,959 1958,959.2 1968,959.5 1978,960 1988,960.5 1999,960.9 2009,961 2019,959.4 2029,957.2 2039,955.6 2049,954.1 2060,952.8 2070,952.3 2080,952.2 2090,953.9 2100,955.1 2110,956.1 2121,957.2 2131,958.4 2141,960.6 2151,962 2161,963 2172,963.9 2182,966.8 2192,969.7 2202,975 2212,980.8 2222,985.6 2233,990.1" fill="none" stroke="#f23645" stroke-width="2" stroke-linejoin="round"/>
<polyline points="15,927.9 25,927.2 35,925.7 45,924.2 55,922.8 66,921.4 76,920 86,918.6 96,917.3 106,915.6 117,913.5 127,911.3 137,909.1 147,906.8 157,904.4 167,902.3 178,900.1 188,897.9 198,895.8 208,893.7 218,891.8 228,889.8 239,887.6 249,885.6 259,883.6 269,881.8 279,879.9 289,877.9 300,876 310,874.2 320,872.4 330,870.9 340,869.6 351,868.4 361,867 371,865.6 381,864.3 391,862.9 401,861.3 412,859.8 422,858.3 432,856.6 442,854.9 452,853.1 462,851.1 473,849.5 483,848 493,846.6 503,845.1 513,843.8 523,842.9 534,841.8 544,840.9 554,839.6 564,838.5 574,837.5 584,836.9 595,836.1 605,835.4 615,834.6 625,834.2 635,833.7 646,833.3 656,832.8 666,832.1 676,831.4 686,830.8 696,830.2 707,829.6 717,829 727,828.3 737,827.6 747,826.7 757,825.7 768,824.7 778,823.6 788,822.7 798,821.7 808,820.6 818,819.6 829,818.5 839,817.5 849,816.6 859,815.7 869,815.1 880,814.5 890,813.8 900,813.6 910,813.2 920,812.9 930,812.3 941,811.6 951,810.9 961,809.7 971,808.4 981,807 991,805.5 1002,804 1012,802.4 1022,801.1 1032,799.7 1042,798.4 1052,797.9 1063,797.6 1073,797 1083,796.3 1093,795.8 1103,795.6 1114,795.6 1124,795.7 1134,795.8 1144,795.7 1154,795.5 1164,795.5 1175,795.5 1185,795.3 1195,795.1 1205,794.8 1215,794.2 1225,793.6 1236,793.2 1246,793.1 1256,793.1 1266,793 1276,792.8 1286,792.6 1297,792.8 1307,793.4 1317,793.8 1327,794.5 1337,794.9 1347,795.5 1358,795.8 1368,796 1378,796.5 1388,797 1398,797.8 1409,799 1419,800.1 1429,801.4 1439,802.8 1449,804.1 1459,805.6 1470,807.5 1480,809.5 1490,811.5 1500,813.4 1510,815 1520,816.8 1531,818.2 1541,819.5 1551,820.9 1561,822.3 1571,823.7 1581,825.4 1592,826.7 1602,827.8 1612,829 1622,830.4 1632,831.8 1643,833.2 1653,834.4 1663,835.5 1673,836.6 1683,837.7 1693,839 1704,840.2 1714,841.7 1724,843.3 1734,844.8 1744,846.4 1754,848 1765,849.4 1775,850.8 1785,852.1 1795,853.4 1805,854.8 1815,856.2 1826,857.6 1836,859 1846,860.4 1856,861.7 1866,863 1877,864.3 1887,865.6 1897,866.8 1907,867.8 1917,868.8 1927,869.7 1938,870.3 1948,870.9 1958,871.8 1968,872.7 1978,873.7 1988,874.6 1999,875.5 2009,876.4 2019,876.8 2029,877.1 2039,877.5 2049,877.8 2060,878.3 2070,878.9 2080,879.5 2090,880.6 2100,881.6 2110,882.6 2121,883.5 2131,884.5 2141,885.8 2151,886.8 2161,887.8 2172,888.7 2182,890.1 2192,891.5 2202,893.5 2212,895.6 2222,897.6 2233,899.5" fill="none" stroke="#2962ff" stroke-width="2" stroke-linejoin="round"/>
<polyline points="15,814.8 25,814.5 35,812 45,809.1 55,807.8 66,806.5 76,804.4 86,803.3 96,801.8 106,798.4 117,791.1 127,783.3 137,776.2 147,768.6 157,761.1 167,756.2 178,750.9 188,745.7 198,742.1 208,738.7 218,736.3 228,734 239,729.8 249,727.1 259,725.1 269,723.8 279,722.4 289,719.8 300,718.6 310,717.6 320,716.7 330,717.8 340,720.8 351,724.1 361,725.6 371,726.4 381,727.9 391,728.4 401,726.9 412,726.3 422,725.6 432,722.9 442,721 452,718.1 462,712.8 473,712 483,712.1 493,712 503,712 513,713 523,716.8 534,719 544,722.4 554,722 564,722.8 574,725.2 584,730 595,733 605,736.1 615,737.9 625,743 635,747.2 646,751.6 656,754.7 666,755.8 676,756.5 686,757.9 696,759.2 707,760.8 717,761.4 727,761.2 737,761.6 747,759.7 757,756.9 768,753.7 778,750.9 788,749 798,747.1 808,744.4 818,742.2 829,739.7 839,738.5 849,737.4 859,736.8 869,738.4 880,740.4 890,741.2 900,745.5 910,748.8 920,751.8 930,752.4 941,751.2 951,750.3 961,745.7 971,739.9 981,733.3 991,727.2 1002,720.9 1012,714.3 1022,711 1032,706.5 1042,703.7 1052,708.2 1063,714.1 1073,715.9 1083,717.3 1093,720.5 1103,725.2 1114,731.6 1124,738.9 1134,744.9 1144,749 1154,751.3 1164,755.1 1175,759.4 1185,761.1 1195,761.8 1205,762 1215,759.7 1225,758 1236,757.4 1246,759.3 1256,762.5 1266,764.4 1276,765.7 1286,766.4 1297,770.5 1307,778.6 1317,783.9 1327,791 1337,795.6 1347,800.7 1358,803.3 1368,804.4 1378,808.1 1388,812.7 1398,818.6 1409,828.7 1419,836.9 1429,845.6 1439,855.5 1449,863.8 1459,872.7 1470,885.6 1480,898.7 1490,911.3 1500,920.6 1510,927.6 1520,934.9 1531,938.5 1541,940.9 1551,943.4 1561,945.7 1571,948.3 1581,954.9 1592,955.7 1602,954.2 1612,954.2 1622,957.1 1632,959.7 1643,961 1653,961.9 1663,960.7 1673,960.2 1683,959.3 1693,960.7 1704,962 1714,965.5 1724,970.4 1734,973.4 1744,977.8 1754,982.6 1765,984.1 1775,985.3 1785,986.1 1795,986.7 1805,988.6 1815,990.1 1826,991.9 1836,993.3 1846,994.2 1856,994.9 1866,996.3 1877,996.2 1887,997.1 1897,996.6 1907,994.9 1917,992.7 1927,989.7 1938,984.4 1948,979.7 1958,978.1 1968,977.1 1978,976.7 1988,976.3 1999,975.6 2009,974.5 2019,969.3 2029,962.9 2039,958.5 2049,954.5 2060,951.5 2070,950.2 2080,950.2 2090,954.5 2100,957.4 2110,959.8 2121,961.9 2131,964.4 2141,969.2 2151,971.9 2161,973.4 2172,974.6 2182,980.7 2192,986.6 2202,997.9 2212,1010.2 2222,1019.4 2233,1027.5" fill="none" stroke="#056656" stroke-width="2" stroke-linejoin="round"/>
<polyline points="15,869.3 25,868.6 35,867 45,865.2 55,863.8 66,862.3 76,860.7 86,859.4 96,857.9 106,856 117,853.2 127,850.2 137,847.3 147,844.1 157,840.9 167,838.1 178,835.2 188,832.3 198,829.7 208,827.1 218,824.8 228,822.4 239,819.6 249,817.1 259,814.8 269,812.7 279,810.5 289,808.1 300,806 310,804 320,802 330,800.5 340,799.4 351,798.5 361,797.4 371,796.1 381,795 391,793.7 401,792 412,790.6 422,789.1 432,787.2 442,785.5 452,783.5 462,781 473,779.4 483,778.1 493,776.7 503,775.4 513,774.3 523,773.9 534,773.2 544,772.9 554,771.7 564,770.9 574,770.4 584,770.6 595,770.4 605,770.3 615,770 625,770.5 635,770.8 646,771.3 656,771.5 666,771.4 676,771.2 686,771.3 696,771.3 707,771.4 717,771.3 727,771 737,770.9 747,770.4 757,769.5 768,768.6 778,767.7 788,767 798,766.2 808,765.3 818,764.4 829,763.4 839,762.7 849,762 859,761.4 869,761.2 880,761.2 890,760.9 900,761.4 910,761.8 920,762.2 930,762.1 941,761.7 951,761.3 961,760.1 971,758.6 981,756.8 991,755 1002,753.1 1012,751 1022,749.6 1032,747.8 1042,746.4 1052,746.5 1063,747 1073,746.7 1083,746.4 1093,746.5 1103,747 1114,747.9 1124,749.1 1134,750.2 1144,750.9 1154,751.3 1164,752.2 1175,753.1 1185,753.6 1195,753.9 1205,754.1 1215,753.7 1225,753.5 1236,753.5 1246,753.9 1256,754.7 1266,755.3 1276,755.7 1286,756 1297,757.1 1307,759 1317,760.5 1327,762.4 1337,763.9 1347,765.5 1358,766.7 1368,767.6 1378,769.1 1388,770.8 1398,772.8 1409,775.6 1419,778.3 1429,781.1 1439,784.3 1449,787.2 1459,790.4 1470,794.4 1480,798.6 1490,802.9 1500,806.6 1510,810.1 1520,813.6 1531,816.5 1541,819.3 1551,822 1561,824.7 1571,827.4 1581,830.9 1592,833.4 1602,835.4 1612,837.6 1622,840.3 1632,843 1643,845.4 1653,847.7 1663,849.6 1673,851.6 1683,853.5 1693,855.7 1704,858 1714,860.6 1724,863.5 1734,866 1744,868.9 1754,871.8 1765,874.2 1775,876.5 1785,878.6 1795,880.8 1805,883.1 1815,885.4 1826,887.7 1836,889.9 1846,892 1856,894.1 1866,896.3 1877,898.1 1887,900.2 1897,901.9 1907,903.3 1917,904.7 1927,905.8 1938,906.3 1948,906.9 1958,908 1968,909.1 1978,910.4 1988,911.6 1999,912.7 2009,913.7 2019,913.8 2029,913.6 2039,913.7 2049,913.8 2060,914 2070,914.4 2080,915.1 2090,916.7 2100,918 2110,919.2 2121,920.4 2131,921.7 2141,923.5 2151,924.9 2161,926.1 2172,927.3 2182,929.4 2192,931.6 2202,934.9 2212,938.4 2222,941.6 2233,944.6" fill="none" stroke="#5b2fc4" stroke-width="2" stroke-linejoin="round"/>
<rect x="24" y="801" width="2" height="21" fill="#6c6e76"/>
<rect x="34" y="780" width="2" height="44" fill="#6c6e76"/>
<rect x="44" y="773" width="2" height="18" fill="#6c6e76"/>
<rect x="54" y="780" width="2" height="23" fill="#6c6e76"/>
<rect x="65" y="793" width="2" height="6" fill="#6c6e76"/>
<rect x="75" y="781" width="2" height="17" fill="#6c6e76"/>
<rect x="85" y="781" width="2" height="20" fill="#6c6e76"/>
<rect x="95" y="786" width="2" height="16" fill="#6c6e76"/>
<rect x="105" y="760" width="2" height="34" fill="#6c6e76"/>
<rect x="116" y="717" width="2" height="56" fill="#6c6e76"/>
<rect x="126" y="702" width="2" height="30" fill="#6c6e76"/>
<rect x="136" y="707" width="2" height="10" fill="#6c6e76"/>
<rect x="146" y="696" width="2" height="19" fill="#6c6e76"/>
<rect x="156" y="665" width="2" height="36" fill="#6c6e76"/>
<rect x="166" y="692" width="2" height="36" fill="#6c6e76"/>
<rect x="177" y="691" width="2" height="26" fill="#6c6e76"/>
<rect x="187" y="684" width="2" height="29" fill="#6c6e76"/>
<rect x="197" y="685" width="2" height="33" fill="#6c6e76"/>
<rect x="207" y="704" width="2" height="10" fill="#6c6e76"/>
<rect x="217" y="701" width="2" height="20" fill="#6c6e76"/>
<rect x="227" y="695" width="2" height="26" fill="#6c6e76"/>
<rect x="238" y="690" width="2" height="34" fill="#6c6e76"/>
<rect x="248" y="691" width="2" height="23" fill="#6c6e76"/>
<rect x="258" y="696" width="2" height="19" fill="#6c6e76"/>
<rect x="268" y="704" width="2" height="34" fill="#6c6e76"/>
<rect x="278" y="706" width="2" height="9" fill="#6c6e76"/>
<rect x="288" y="694" width="2" height="15" fill="#6c6e76"/>
<rect x="299" y="693" width="2" height="21" fill="#6c6e76"/>
<rect x="309" y="698" width="2" height="20" fill="#6c6e76"/>
<rect x="319" y="702" width="2" height="26" fill="#6c6e76"/>
<rect x="329" y="701" width="2" height="29" fill="#6c6e76"/>
<rect x="339" y="725" width="2" height="30" fill="#6c6e76"/>
<rect x="350" y="743" width="2" height="18" fill="#6c6e76"/>
<rect x="360" y="736" width="2" height="25" fill="#6c6e76"/>
<rect x="370" y="728" width="2" height="13" fill="#6c6e76"/>
<rect x="380" y="733" width="2" height="22" fill="#6c6e76"/>
<rect x="390" y="728" width="2" height="21" fill="#6c6e76"/>
<rect x="400" y="711" width="2" height="30" fill="#6c6e76"/>
<rect x="411" y="712" width="2" height="15" fill="#6c6e76"/>
<rect x="421" y="709" width="2" height="14" fill="#6c6e76"/>
<rect x="431" y="699" width="2" height="22" fill="#6c6e76"/>
<rect x="441" y="673" width="2" height="35" fill="#6c6e76"/>
<rect x="451" y="689" width="2" height="18" fill="#6c6e76"/>
<rect x="461" y="662" width="2" height="39" fill="#6c6e76"/>
<rect x="472" y="655" width="2" height="60" fill="#6c6e76"/>
<rect x="482" y="697" width="2" height="21" fill="#6c6e76"/>
<rect x="492" y="708" width="2" height="7" fill="#6c6e76"/>
<rect x="502" y="703" width="2" height="12" fill="#6c6e76"/>
<rect x="512" y="713" width="2" height="24" fill="#6c6e76"/>
<rect x="522" y="719" width="2" height="34" fill="#6c6e76"/>
<rect x="533" y="738" width="2" height="19" fill="#6c6e76"/>
<rect x="543" y="736" width="2" height="25" fill="#6c6e76"/>
<rect x="553" y="714" width="2" height="50" fill="#6c6e76"/>
<rect x="563" y="717" width="2" height="21" fill="#6c6e76"/>
<rect x="573" y="729" width="2" height="43" fill="#6c6e76"/>
<rect x="583" y="746" width="2" height="39" fill="#6c6e76"/>
<rect x="594" y="757" width="2" height="33" fill="#6c6e76"/>
<rect x="604" y="755" width="2" height="20" fill="#6c6e76"/>
<rect x="614" y="748" width="2" height="23" fill="#6c6e76"/>
<rect x="624" y="755" width="2" height="46" fill="#6c6e76"/>
<rect x="634" y="788" width="2" height="14" fill="#6c6e76"/>
<rect x="645" y="783" width="2" height="13" fill="#6c6e76"/>
<rect x="655" y="779" width="2" height="25" fill="#6c6e76"/>
<rect x="665" y="763" width="2" height="30" fill="#6c6e76"/>
<rect x="675" y="755" width="2" height="19" fill="#6c6e76"/>
<rect x="685" y="759" width="2" height="25" fill="#6c6e76"/>
<rect x="695" y="748" width="2" height="28" fill="#6c6e76"/>
<rect x="706" y="767" width="2" height="11" fill="#6c6e76"/>
<rect x="716" y="764" width="2" height="13" fill="#6c6e76"/>
<rect x="726" y="752" width="2" height="21" fill="#6c6e76"/>
<rect x="736" y="749" width="2" height="23" fill="#6c6e76"/>
<rect x="746" y="740" width="2" height="30" fill="#6c6e76"/>
<rect x="756" y="731" width="2" height="17" fill="#6c6e76"/>
<rect x="767" y="719" width="2" height="17" fill="#6c6e76"/>
<rect x="777" y="723" width="2" height="10" fill="#6c6e76"/>
<rect x="787" y="724" width="2" height="9" fill="#6c6e76"/>
<rect x="797" y="719" width="2" height="20" fill="#6c6e76"/>
<rect x="807" y="717" width="2" height="19" fill="#6c6e76"/>
<rect x="817" y="714" width="2" height="22" fill="#6c6e76"/>
<rect x="828" y="709" width="2" height="15" fill="#6c6e76"/>
<rect x="838" y="713" width="2" height="20" fill="#6c6e76"/>
<rect x="848" y="724" width="2" height="6" fill="#6c6e76"/>
<rect x="858" y="727" width="2" height="5" fill="#6c6e76"/>
<rect x="868" y="732" width="2" height="28" fill="#6c6e76"/>
<rect x="879" y="749" width="2" height="16" fill="#6c6e76"/>
<rect x="889" y="743" width="2" height="25" fill="#6c6e76"/>
<rect x="899" y="747" width="2" height="44" fill="#6c6e76"/>
<rect x="909" y="775" width="2" height="16" fill="#6c6e76"/>
<rect x="919" y="780" width="2" height="6" fill="#6c6e76"/>
<rect x="929" y="757" width="2" height="28" fill="#6c6e76"/>
<rect x="940" y="739" width="2" height="25" fill="#6c6e76"/>
<rect x="950" y="736" width="2" height="18" fill="#6c6e76"/>
<rect x="960" y="703" width="2" height="40" fill="#6c6e76"/>
<rect x="970" y="683" width="2" height="23" fill="#6c6e76"/>
<rect x="980" y="660" width="2" height="37" fill="#6c6e76"/>
<rect x="990" y="668" width="2" height="11" fill="#6c6e76"/>
<rect x="1001" y="646" width="2" height="28" fill="#6c6e76"/>
<rect x="1011" y="641" width="2" height="25" fill="#6c6e76"/>
<rect x="1021" y="649" width="2" height="38" fill="#6c6e76"/>
<rect x="1031" y="658" width="2" height="25" fill="#6c6e76"/>
<rect x="1041" y="661" width="2" height="33" fill="#6c6e76"/>
<rect x="1051" y="671" width="2" height="110" fill="#6c6e76"/>
<rect x="1062" y="748" width="2" height="33" fill="#6c6e76"/>
<rect x="1072" y="727" width="2" height="54" fill="#6c6e76"/>
<rect x="1082" y="725" width="2" height="20" fill="#6c6e76"/>
<rect x="1092" y="730" width="2" height="49" fill="#6c6e76"/>
<rect x="1102" y="746" width="2" height="31" fill="#6c6e76"/>
<rect x="1113" y="760" width="2" height="42" fill="#6c6e76"/>
<rect x="1123" y="785" width="2" height="54" fill="#6c6e76"/>
<rect x="1133" y="801" width="2" height="11" fill="#6c6e76"/>
<rect x="1143" y="783" width="2" height="31" fill="#6c6e76"/>
<rect x="1153" y="763" width="2" height="39" fill="#6c6e76"/>
<rect x="1163" y="742" width="2" height="60" fill="#6c6e76"/>
<rect x="1174" y="786" width="2" height="28" fill="#6c6e76"/>
<rect x="1184" y="767" width="2" height="34" fill="#6c6e76"/>
<rect x="1194" y="760" width="2" height="21" fill="#6c6e76"/>
<rect x="1204" y="761" width="2" height="11" fill="#6c6e76"/>
<rect x="1214" y="730" width="2" height="37" fill="#6c6e76"/>
<rect x="1224" y="722" width="2" height="21" fill="#6c6e76"/>
<rect x="1235" y="725" width="2" height="33" fill="#6c6e76"/>
<rect x="1245" y="746" width="2" height="39" fill="#6c6e76"/>
<rect x="1255" y="764" width="2" height="49" fill="#6c6e76"/>
<rect x="1265" y="769" width="2" height="26" fill="#6c6e76"/>
<rect x="1275" y="774" width="2" height="9" fill="#6c6e76"/>
<rect x="1285" y="768" width="2" height="15" fill="#6c6e76"/>
<rect x="1296" y="772" width="2" height="50" fill="#6c6e76"/>
<rect x="1306" y="804" width="2" height="80" fill="#6c6e76"/>
<rect x="1316" y="829" width="2" height="55" fill="#6c6e76"/>
<rect x="1326" y="833" width="2" height="38" fill="#6c6e76"/>
<rect x="1336" y="834" width="2" height="47" fill="#6c6e76"/>
<rect x="1346" y="842" width="2" height="17" fill="#6c6e76"/>
<rect x="1357" y="821" width="2" height="39" fill="#6c6e76"/>
<rect x="1367" y="810" width="2" height="22" fill="#6c6e76"/>
<rect x="1377" y="802" width="2" height="47" fill="#6c6e76"/>
<rect x="1387" y="822" width="2" height="43" fill="#6c6e76"/>
<rect x="1397" y="834" width="2" height="60" fill="#6c6e76"/>
<rect x="1408" y="875" width="2" height="60" fill="#6c6e76"/>
<rect x="1418" y="906" width="2" height="23" fill="#6c6e76"/>
<rect x="1428" y="908" width="2" height="38" fill="#6c6e76"/>
<rect x="1438" y="915" width="2" height="50" fill="#6c6e76"/>
<rect x="1448" y="937" width="2" height="50" fill="#6c6e76"/>
<rect x="1458" y="946" width="2" height="49" fill="#6c6e76"/>
<rect x="1469" y="945" width="2" height="79" fill="#6c6e76"/>
<rect x="1479" y="1007" width="2" height="82" fill="#6c6e76"/>
<rect x="1489" y="1029" width="2" height="25" fill="#6c6e76"/>
<rect x="1499" y="1000" width="2" height="39" fill="#6c6e76"/>
<rect x="1509" y="987" width="2" height="45" fill="#6c6e76"/>
<rect x="1519" y="995" width="2" height="27" fill="#6c6e76"/>
<rect x="1530" y="971" width="2" height="49" fill="#6c6e76"/>
<rect x="1540" y="957" width="2" height="20" fill="#6c6e76"/>
<rect x="1550" y="945" width="2" height="31" fill="#6c6e76"/>
<rect x="1560" y="965" width="2" height="11" fill="#6c6e76"/>
<rect x="1570" y="957" width="2" height="17" fill="#6c6e76"/>
<rect x="1580" y="973" width="2" height="76" fill="#6c6e76"/>
<rect x="1591" y="953" width="2" height="67" fill="#6c6e76"/>
<rect x="1601" y="933" width="2" height="34" fill="#6c6e76"/>
<rect x="1611" y="934" width="2" height="34" fill="#6c6e76"/>
<rect x="1621" y="949" width="2" height="50" fill="#6c6e76"/>
<rect x="1631" y="975" width="2" height="15" fill="#6c6e76"/>
<rect x="1642" y="959" width="2" height="44" fill="#6c6e76"/>
<rect x="1652" y="953" width="2" height="29" fill="#6c6e76"/>
<rect x="1662" y="928" width="2" height="55" fill="#6c6e76"/>
<rect x="1672" y="930" width="2" height="31" fill="#6c6e76"/>
<rect x="1682" y="940" width="2" height="46" fill="#6c6e76"/>
<rect x="1692" y="948" width="2" height="36" fill="#6c6e76"/>
<rect x="1703" y="971" width="2" height="9" fill="#6c6e76"/>
<rect x="1713" y="973" width="2" height="31" fill="#6c6e76"/>
<rect x="1723" y="978" width="2" height="55" fill="#6c6e76"/>
<rect x="1733" y="999" width="2" height="33" fill="#6c6e76"/>
<rect x="1743" y="975" width="2" height="57" fill="#6c6e76"/>
<rect x="1753" y="985" width="2" height="57" fill="#6c6e76"/>
<rect x="1764" y="985" width="2" height="49" fill="#6c6e76"/>
<rect x="1774" y="995" width="2" height="8" fill="#6c6e76"/>
<rect x="1784" y="989" width="2" height="16" fill="#6c6e76"/>
<rect x="1794" y="972" width="2" height="30" fill="#6c6e76"/>
<rect x="1804" y="991" width="2" height="26" fill="#6c6e76"/>
<rect x="1814" y="1001" width="2" height="18" fill="#6c6e76"/>
<rect x="1825" y="995" width="2" height="18" fill="#6c6e76"/>
<rect x="1835" y="984" width="2" height="33" fill="#6c6e76"/>
<rect x="1845" y="1002" width="2" height="7" fill="#6c6e76"/>
<rect x="1855" y="1000" width="2" height="8" fill="#6c6e76"/>
<rect x="1865" y="975" width="2" height="40" fill="#6c6e76"/>
<rect x="1876" y="986" width="2" height="29" fill="#6c6e76"/>
<rect x="1886" y="988" width="2" height="23" fill="#6c6e76"/>
<rect x="1896" y="992" width="2" height="17" fill="#6c6e76"/>
<rect x="1906" y="968" width="2" height="28" fill="#6c6e76"/>
<rect x="1916" y="971" width="2" height="15" fill="#6c6e76"/>
<rect x="1926" y="959" width="2" height="14" fill="#6c6e76"/>
<rect x="1937" y="927" width="2" height="35" fill="#6c6e76"/>
<rect x="1947" y="930" width="2" height="35" fill="#6c6e76"/>
<rect x="1957" y="939" width="2" height="33" fill="#6c6e76"/>
<rect x="1967" y="961" width="2" height="26" fill="#6c6e76"/>
<rect x="1977" y="957" width="2" height="26" fill="#6c6e76"/>
<rect x="1987" y="970" width="2" height="5" fill="#6c6e76"/>
<rect x="1998" y="966" width="2" height="10" fill="#6c6e76"/>
<rect x="2008" y="952" width="2" height="26" fill="#6c6e76"/>
<rect x="2018" y="909" width="2" height="59" fill="#6c6e76"/>
<rect x="2028" y="894" width="2" height="38" fill="#6c6e76"/>
<rect x="2038" y="902" width="2" height="21" fill="#6c6e76"/>
<rect x="2048" y="916" width="2" height="16" fill="#6c6e76"/>
<rect x="2059" y="918" width="2" height="6" fill="#6c6e76"/>
<rect x="2069" y="919" width="2" height="20" fill="#6c6e76"/>
<rect x="2079" y="940" width="2" height="17" fill="#6c6e76"/>
<rect x="2089" y="948" width="2" height="55" fill="#6c6e76"/>
<rect x="2099" y="973" width="2" height="37" fill="#6c6e76"/>
<rect x="2109" y="975" width="2" height="21" fill="#6c6e76"/>
<rect x="2120" y="966" width="2" height="29" fill="#6c6e76"/>
<rect x="2130" y="981" width="2" height="7" fill="#6c6e76"/>
<rect x="2140" y="987" width="2" height="36" fill="#6c6e76"/>
<rect x="2150" y="992" width="2" height="26" fill="#6c6e76"/>
<rect x="2160" y="985" width="2" height="25" fill="#6c6e76"/>
<rect x="2171" y="973" width="2" height="19" fill="#6c6e76"/>
<rect x="2181" y="988" width="2" height="68" fill="#6c6e76"/>
<rect x="2191" y="1040" width="2" height="42" fill="#6c6e76"/>
<rect x="2201" y="1045" width="2" height="107" fill="#6c6e76"/>
<rect x="2211" y="1104" width="2" height="47" fill="#6c6e76"/>
<rect x="2221" y="1104" width="2" height="62" fill="#6c6e76"/>
<rect x="2232" y="1106" width="2" height="10" fill="#6c6e76"/>
<rect x="21" y="804" width="8" height="15" fill="#4f0703"/>
<rect x="22.8" y="805.8" width="4.4" height="11.4" fill="#df5747"/>
<rect x="31" y="789" width="8" height="30" fill="#114c2d"/>
<rect x="32.8" y="790.8" width="4.4" height="26.4" fill="#6fa98a"/>
<rect x="41" y="782" width="8" height="8" fill="#114c2d"/>
<rect x="42.8" y="783.8" width="4.4" height="4.4" fill="#6fa98a"/>
<rect x="51" y="782" width="8" height="15" fill="#4f0703"/>
<rect x="52.8" y="783.8" width="4.4" height="11.4" fill="#df5747"/>
<rect x="62" y="795" width="8" height="2" fill="#114c2d"/>
<rect x="72" y="785" width="8" height="10" fill="#114c2d"/>
<rect x="73.8" y="786.8" width="4.4" height="6.4" fill="#6fa98a"/>
<rect x="82" y="785" width="8" height="9" fill="#4f0703"/>
<rect x="83.8" y="786.8" width="4.4" height="5.4" fill="#df5747"/>
<rect x="92" y="788" width="8" height="7" fill="#114c2d"/>
<rect x="93.8" y="789.8" width="4.4" height="3.4" fill="#6fa98a"/>
<rect x="102" y="767" width="8" height="22" fill="#114c2d"/>
<rect x="103.8" y="768.8" width="4.4" height="18.4" fill="#6fa98a"/>
<rect x="113" y="725" width="8" height="43" fill="#114c2d"/>
<rect x="114.8" y="726.8" width="4.4" height="39.4" fill="#6fa98a"/>
<rect x="123" y="712" width="8" height="14" fill="#114c2d"/>
<rect x="124.8" y="713.8" width="4.4" height="10.4" fill="#6fa98a"/>
<rect x="133" y="712" width="8" height="2" fill="#4f0703"/>
<rect x="143" y="699" width="8" height="15" fill="#114c2d"/>
<rect x="144.8" y="700.8" width="4.4" height="11.4" fill="#6fa98a"/>
<rect x="153" y="693" width="8" height="7" fill="#114c2d"/>
<rect x="154.8" y="694.8" width="4.4" height="3.4" fill="#6fa98a"/>
<rect x="163" y="694" width="8" height="17" fill="#4f0703"/>
<rect x="164.8" y="695.8" width="4.4" height="13.4" fill="#df5747"/>
<rect x="174" y="703" width="8" height="8" fill="#114c2d"/>
<rect x="175.8" y="704.8" width="4.4" height="4.4" fill="#6fa98a"/>
<rect x="184" y="698" width="8" height="5" fill="#114c2d"/>
<rect x="185.8" y="699.8" width="4.4" height="1.4" fill="#6fa98a"/>
<rect x="194" y="698" width="8" height="10" fill="#4f0703"/>
<rect x="195.8" y="699.8" width="4.4" height="6.4" fill="#df5747"/>
<rect x="204" y="707" width="8" height="2" fill="#4f0703"/>
<rect x="214" y="710" width="8" height="5" fill="#4f0703"/>
<rect x="215.8" y="711.8" width="4.4" height="1.4" fill="#df5747"/>
<rect x="224" y="713" width="8" height="2" fill="#114c2d"/>
<rect x="235" y="692" width="8" height="21" fill="#114c2d"/>
<rect x="236.8" y="693.8" width="4.4" height="17.4" fill="#6fa98a"/>
<rect x="245" y="692" width="8" height="10" fill="#4f0703"/>
<rect x="246.8" y="693.8" width="4.4" height="6.4" fill="#df5747"/>
<rect x="255" y="702" width="8" height="4" fill="#4f0703"/>
<rect x="256.8" y="703.8" width="4.4" height="0.4" fill="#df5747"/>
<rect x="265" y="705" width="8" height="8" fill="#4f0703"/>
<rect x="266.8" y="706.8" width="4.4" height="4.4" fill="#df5747"/>
<rect x="275" y="709" width="8" height="4" fill="#114c2d"/>
<rect x="276.8" y="710.8" width="4.4" height="0.4" fill="#6fa98a"/>
<rect x="285" y="696" width="8" height="13" fill="#114c2d"/>
<rect x="286.8" y="697.8" width="4.4" height="9.4" fill="#6fa98a"/>
<rect x="296" y="696" width="8" height="12" fill="#4f0703"/>
<rect x="297.8" y="697.8" width="4.4" height="8.4" fill="#df5747"/>
<rect x="306" y="707" width="8" height="2" fill="#4f0703"/>
<rect x="316" y="708" width="8" height="2" fill="#4f0703"/>
<rect x="326" y="710" width="8" height="19" fill="#4f0703"/>
<rect x="327.8" y="711.8" width="4.4" height="15.4" fill="#df5747"/>
<rect x="336" y="729" width="8" height="22" fill="#4f0703"/>
<rect x="337.8" y="730.8" width="4.4" height="18.4" fill="#df5747"/>
<rect x="347" y="751" width="8" height="5" fill="#4f0703"/>
<rect x="348.8" y="752.8" width="4.4" height="1.4" fill="#df5747"/>
<rect x="357" y="741" width="8" height="15" fill="#114c2d"/>
<rect x="358.8" y="742.8" width="4.4" height="11.4" fill="#6fa98a"/>
<rect x="367" y="735" width="8" height="6" fill="#114c2d"/>
<rect x="368.8" y="736.8" width="4.4" height="2.4" fill="#6fa98a"/>
<rect x="377" y="735" width="8" height="7" fill="#4f0703"/>
<rect x="378.8" y="736.8" width="4.4" height="3.4" fill="#df5747"/>
<rect x="387" y="735" width="8" height="7" fill="#114c2d"/>
<rect x="388.8" y="736.8" width="4.4" height="3.4" fill="#6fa98a"/>
<rect x="397" y="713" width="8" height="21" fill="#114c2d"/>
<rect x="398.8" y="714.8" width="4.4" height="17.4" fill="#6fa98a"/>
<rect x="408" y="713" width="8" height="7" fill="#4f0703"/>
<rect x="409.8" y="714.8" width="4.4" height="3.4" fill="#df5747"/>
<rect x="418" y="720" width="8" height="2" fill="#4f0703"/>
<rect x="428" y="699" width="8" height="22" fill="#114c2d"/>
<rect x="429.8" y="700.8" width="4.4" height="18.4" fill="#6fa98a"/>
<rect x="438" y="699" width="8" height="4" fill="#4f0703"/>
<rect x="439.8" y="700.8" width="4.4" height="0.4" fill="#df5747"/>
<rect x="448" y="691" width="8" height="12" fill="#114c2d"/>
<rect x="449.8" y="692.8" width="4.4" height="8.4" fill="#6fa98a"/>
<rect x="458" y="664" width="8" height="27" fill="#114c2d"/>
<rect x="459.8" y="665.8" width="4.4" height="23.4" fill="#6fa98a"/>
<rect x="469" y="665" width="8" height="41" fill="#4f0703"/>
<rect x="470.8" y="666.8" width="4.4" height="37.4" fill="#df5747"/>
<rect x="479" y="705" width="8" height="8" fill="#4f0703"/>
<rect x="480.8" y="706.8" width="4.4" height="4.4" fill="#df5747"/>
<rect x="489" y="712" width="8" height="2" fill="#114c2d"/>
<rect x="499" y="712" width="8" height="2" fill="#114c2d"/>
<rect x="509" y="713" width="8" height="11" fill="#4f0703"/>
<rect x="510.8" y="714.8" width="4.4" height="7.4" fill="#df5747"/>
<rect x="519" y="724" width="8" height="29" fill="#4f0703"/>
<rect x="520.8" y="725.8" width="4.4" height="25.4" fill="#df5747"/>
<rect x="530" y="741" width="8" height="12" fill="#114c2d"/>
<rect x="531.8" y="742.8" width="4.4" height="8.4" fill="#6fa98a"/>
<rect x="540" y="741" width="8" height="15" fill="#4f0703"/>
<rect x="541.8" y="742.8" width="4.4" height="11.4" fill="#df5747"/>
<rect x="550" y="718" width="8" height="38" fill="#114c2d"/>
<rect x="551.8" y="719.8" width="4.4" height="34.4" fill="#6fa98a"/>
<rect x="560" y="718" width="8" height="14" fill="#4f0703"/>
<rect x="561.8" y="719.8" width="4.4" height="10.4" fill="#df5747"/>
<rect x="570" y="732" width="8" height="16" fill="#4f0703"/>
<rect x="571.8" y="733.8" width="4.4" height="12.4" fill="#df5747"/>
<rect x="580" y="747" width="8" height="30" fill="#4f0703"/>
<rect x="581.8" y="748.8" width="4.4" height="26.4" fill="#df5747"/>
<rect x="591" y="762" width="8" height="15" fill="#114c2d"/>
<rect x="592.8" y="763.8" width="4.4" height="11.4" fill="#6fa98a"/>
<rect x="601" y="762" width="8" height="5" fill="#4f0703"/>
<rect x="602.8" y="763.8" width="4.4" height="1.4" fill="#df5747"/>
<rect x="611" y="755" width="8" height="12" fill="#114c2d"/>
<rect x="612.8" y="756.8" width="4.4" height="8.4" fill="#6fa98a"/>
<rect x="621" y="755" width="8" height="38" fill="#4f0703"/>
<rect x="622.8" y="756.8" width="4.4" height="34.4" fill="#df5747"/>
<rect x="631" y="789" width="8" height="4" fill="#114c2d"/>
<rect x="632.8" y="790.8" width="4.4" height="0.4" fill="#6fa98a"/>
<rect x="642" y="789" width="8" height="5" fill="#4f0703"/>
<rect x="643.8" y="790.8" width="4.4" height="1.4" fill="#df5747"/>
<rect x="652" y="785" width="8" height="9" fill="#114c2d"/>
<rect x="653.8" y="786.8" width="4.4" height="5.4" fill="#6fa98a"/>
<rect x="662" y="767" width="8" height="18" fill="#114c2d"/>
<rect x="663.8" y="768.8" width="4.4" height="14.4" fill="#6fa98a"/>
<rect x="672" y="764" width="8" height="3" fill="#114c2d"/>
<rect x="682" y="764" width="8" height="8" fill="#4f0703"/>
<rect x="683.8" y="765.8" width="4.4" height="4.4" fill="#df5747"/>
<rect x="692" y="771" width="8" height="2" fill="#4f0703"/>
<rect x="703" y="772" width="8" height="5" fill="#4f0703"/>
<rect x="704.8" y="773.8" width="4.4" height="1.4" fill="#df5747"/>
<rect x="713" y="768" width="8" height="9" fill="#114c2d"/>
<rect x="714.8" y="769.8" width="4.4" height="5.4" fill="#6fa98a"/>
<rect x="723" y="760" width="8" height="8" fill="#114c2d"/>
<rect x="724.8" y="761.8" width="4.4" height="4.4" fill="#6fa98a"/>
<rect x="733" y="760" width="8" height="5" fill="#4f0703"/>
<rect x="734.8" y="761.8" width="4.4" height="1.4" fill="#df5747"/>
<rect x="743" y="743" width="8" height="22" fill="#114c2d"/>
<rect x="744.8" y="744.8" width="4.4" height="18.4" fill="#6fa98a"/>
<rect x="753" y="731" width="8" height="13" fill="#114c2d"/>
<rect x="754.8" y="732.8" width="4.4" height="9.4" fill="#6fa98a"/>
<rect x="764" y="725" width="8" height="6" fill="#114c2d"/>
<rect x="765.8" y="726.8" width="4.4" height="2.4" fill="#6fa98a"/>
<rect x="774" y="725" width="8" height="2" fill="#4f0703"/>
<rect x="784" y="727" width="8" height="5" fill="#4f0703"/>
<rect x="785.8" y="728.8" width="4.4" height="1.4" fill="#df5747"/>
<rect x="794" y="730" width="8" height="2" fill="#114c2d"/>
<rect x="804" y="719" width="8" height="13" fill="#114c2d"/>
<rect x="805.8" y="720.8" width="4.4" height="9.4" fill="#6fa98a"/>
<rect x="814" y="719" width="8" height="4" fill="#4f0703"/>
<rect x="815.8" y="720.8" width="4.4" height="0.4" fill="#df5747"/>
<rect x="825" y="716" width="8" height="7" fill="#114c2d"/>
<rect x="826.8" y="717.8" width="4.4" height="3.4" fill="#6fa98a"/>
<rect x="835" y="716" width="8" height="12" fill="#4f0703"/>
<rect x="836.8" y="717.8" width="4.4" height="8.4" fill="#df5747"/>
<rect x="845" y="727" width="8" height="2" fill="#114c2d"/>
<rect x="855" y="728" width="8" height="4" fill="#4f0703"/>
<rect x="856.8" y="729.8" width="4.4" height="0.4" fill="#df5747"/>
<rect x="865" y="733" width="8" height="21" fill="#4f0703"/>
<rect x="866.8" y="734.8" width="4.4" height="17.4" fill="#df5747"/>
<rect x="876" y="755" width="8" height="5" fill="#4f0703"/>
<rect x="877.8" y="756.8" width="4.4" height="1.4" fill="#df5747"/>
<rect x="886" y="749" width="8" height="11" fill="#114c2d"/>
<rect x="887.8" y="750.8" width="4.4" height="7.4" fill="#6fa98a"/>
<rect x="896" y="749" width="8" height="38" fill="#4f0703"/>
<rect x="897.8" y="750.8" width="4.4" height="34.4" fill="#df5747"/>
<rect x="906" y="782" width="8" height="5" fill="#114c2d"/>
<rect x="907.8" y="783.8" width="4.4" height="1.4" fill="#6fa98a"/>
<rect x="916" y="780" width="8" height="2" fill="#4f0703"/>
<rect x="926" y="759" width="8" height="23" fill="#114c2d"/>
<rect x="927.8" y="760.8" width="4.4" height="19.4" fill="#6fa98a"/>
<rect x="937" y="740" width="8" height="19" fill="#114c2d"/>
<rect x="938.8" y="741.8" width="4.4" height="15.4" fill="#6fa98a"/>
<rect x="947" y="740" width="8" height="3" fill="#4f0703"/>
<rect x="957" y="703" width="8" height="40" fill="#114c2d"/>
<rect x="958.8" y="704.8" width="4.4" height="36.4" fill="#6fa98a"/>
<rect x="967" y="688" width="8" height="15" fill="#114c2d"/>
<rect x="968.8" y="689.8" width="4.4" height="11.4" fill="#6fa98a"/>
<rect x="977" y="673" width="8" height="15" fill="#114c2d"/>
<rect x="978.8" y="674.8" width="4.4" height="11.4" fill="#6fa98a"/>
<rect x="987" y="672" width="8" height="2" fill="#114c2d"/>
<rect x="998" y="664" width="8" height="9" fill="#114c2d"/>
<rect x="999.8" y="665.8" width="4.4" height="5.4" fill="#6fa98a"/>
<rect x="1008" y="654" width="8" height="10" fill="#114c2d"/>
<rect x="1009.8" y="655.8" width="4.4" height="6.4" fill="#6fa98a"/>
<rect x="1018" y="654" width="8" height="26" fill="#4f0703"/>
<rect x="1019.8" y="655.8" width="4.4" height="22.4" fill="#df5747"/>
<rect x="1028" y="666" width="8" height="14" fill="#114c2d"/>
<rect x="1029.8" y="667.8" width="4.4" height="10.4" fill="#6fa98a"/>
<rect x="1038" y="666" width="8" height="12" fill="#4f0703"/>
<rect x="1039.8" y="667.8" width="4.4" height="8.4" fill="#df5747"/>
<rect x="1048" y="678" width="8" height="74" fill="#4f0703"/>
<rect x="1049.8" y="679.8" width="4.4" height="70.4" fill="#df5747"/>
<rect x="1059" y="753" width="8" height="20" fill="#4f0703"/>
<rect x="1060.8" y="754.8" width="4.4" height="16.4" fill="#df5747"/>
<rect x="1069" y="735" width="8" height="38" fill="#114c2d"/>
<rect x="1070.8" y="736.8" width="4.4" height="34.4" fill="#6fa98a"/>
<rect x="1079" y="732" width="8" height="2" fill="#114c2d"/>
<rect x="1089" y="732" width="8" height="20" fill="#4f0703"/>
<rect x="1090.8" y="733.8" width="4.4" height="16.4" fill="#df5747"/>
<rect x="1099" y="752" width="8" height="19" fill="#4f0703"/>
<rect x="1100.8" y="753.8" width="4.4" height="15.4" fill="#df5747"/>
<rect x="1110" y="771" width="8" height="24" fill="#4f0703"/>
<rect x="1111.8" y="772.8" width="4.4" height="20.4" fill="#df5747"/>
<rect x="1120" y="795" width="8" height="17" fill="#4f0703"/>
<rect x="1121.8" y="796.8" width="4.4" height="13.4" fill="#df5747"/>
<rect x="1130" y="804" width="8" height="8" fill="#114c2d"/>
<rect x="1131.8" y="805.8" width="4.4" height="4.4" fill="#6fa98a"/>
<rect x="1140" y="790" width="8" height="14" fill="#114c2d"/>
<rect x="1141.8" y="791.8" width="4.4" height="10.4" fill="#6fa98a"/>
<rect x="1150" y="773" width="8" height="17" fill="#114c2d"/>
<rect x="1151.8" y="774.8" width="4.4" height="13.4" fill="#6fa98a"/>
<rect x="1160" y="773" width="8" height="21" fill="#4f0703"/>
<rect x="1161.8" y="774.8" width="4.4" height="17.4" fill="#df5747"/>
<rect x="1171" y="795" width="8" height="6" fill="#4f0703"/>
<rect x="1172.8" y="796.8" width="4.4" height="2.4" fill="#df5747"/>
<rect x="1181" y="778" width="8" height="23" fill="#114c2d"/>
<rect x="1182.8" y="779.8" width="4.4" height="19.4" fill="#6fa98a"/>
<rect x="1191" y="769" width="8" height="9" fill="#114c2d"/>
<rect x="1192.8" y="770.8" width="4.4" height="5.4" fill="#6fa98a"/>
<rect x="1201" y="764" width="8" height="5" fill="#114c2d"/>
<rect x="1202.8" y="765.8" width="4.4" height="1.4" fill="#6fa98a"/>
<rect x="1211" y="738" width="8" height="26" fill="#114c2d"/>
<rect x="1212.8" y="739.8" width="4.4" height="22.4" fill="#6fa98a"/>
<rect x="1221" y="738" width="8" height="5" fill="#4f0703"/>
<rect x="1222.8" y="739.8" width="4.4" height="1.4" fill="#df5747"/>
<rect x="1232" y="742" width="8" height="11" fill="#4f0703"/>
<rect x="1233.8" y="743.8" width="4.4" height="7.4" fill="#df5747"/>
<rect x="1242" y="753" width="8" height="25" fill="#4f0703"/>
<rect x="1243.8" y="754.8" width="4.4" height="21.4" fill="#df5747"/>
<rect x="1252" y="778" width="8" height="17" fill="#4f0703"/>
<rect x="1253.8" y="779.8" width="4.4" height="13.4" fill="#df5747"/>
<rect x="1262" y="783" width="8" height="12" fill="#114c2d"/>
<rect x="1263.8" y="784.8" width="4.4" height="8.4" fill="#6fa98a"/>
<rect x="1272" y="778" width="8" height="5" fill="#114c2d"/>
<rect x="1273.8" y="779.8" width="4.4" height="1.4" fill="#6fa98a"/>
<rect x="1282" y="774" width="8" height="4" fill="#114c2d"/>
<rect x="1283.8" y="775.8" width="4.4" height="0.4" fill="#6fa98a"/>
<rect x="1293" y="774" width="8" height="37" fill="#4f0703"/>
<rect x="1294.8" y="775.8" width="4.4" height="33.4" fill="#df5747"/>
<rect x="1303" y="811" width="8" height="49" fill="#4f0703"/>
<rect x="1304.8" y="812.8" width="4.4" height="45.4" fill="#df5747"/>
<rect x="1313" y="837" width="8" height="23" fill="#114c2d"/>
<rect x="1314.8" y="838.8" width="4.4" height="19.4" fill="#6fa98a"/>
<rect x="1323" y="837" width="8" height="24" fill="#4f0703"/>
<rect x="1324.8" y="838.8" width="4.4" height="20.4" fill="#df5747"/>
<rect x="1333" y="841" width="8" height="20" fill="#114c2d"/>
<rect x="1334.8" y="842.8" width="4.4" height="16.4" fill="#6fa98a"/>
<rect x="1343" y="842" width="8" height="10" fill="#4f0703"/>
<rect x="1344.8" y="843.8" width="4.4" height="6.4" fill="#df5747"/>
<rect x="1354" y="828" width="8" height="24" fill="#114c2d"/>
<rect x="1355.8" y="829.8" width="4.4" height="20.4" fill="#6fa98a"/>
<rect x="1364" y="816" width="8" height="13" fill="#114c2d"/>
<rect x="1365.8" y="817.8" width="4.4" height="9.4" fill="#6fa98a"/>
<rect x="1374" y="817" width="8" height="28" fill="#4f0703"/>
<rect x="1375.8" y="818.8" width="4.4" height="24.4" fill="#df5747"/>
<rect x="1384" y="845" width="8" height="13" fill="#4f0703"/>
<rect x="1385.8" y="846.8" width="4.4" height="9.4" fill="#df5747"/>
<rect x="1394" y="858" width="8" height="19" fill="#4f0703"/>
<rect x="1395.8" y="859.8" width="4.4" height="15.4" fill="#df5747"/>
<rect x="1405" y="877" width="8" height="54" fill="#4f0703"/>
<rect x="1406.8" y="878.8" width="4.4" height="50.4" fill="#df5747"/>
<rect x="1415" y="919" width="8" height="10" fill="#114c2d"/>
<rect x="1416.8" y="920.8" width="4.4" height="6.4" fill="#6fa98a"/>
<rect x="1425" y="919" width="8" height="15" fill="#4f0703"/>
<rect x="1426.8" y="920.8" width="4.4" height="11.4" fill="#df5747"/>
<rect x="1435" y="933" width="8" height="22" fill="#4f0703"/>
<rect x="1436.8" y="934.8" width="4.4" height="18.4" fill="#df5747"/>
<rect x="1445" y="946" width="8" height="9" fill="#114c2d"/>
<rect x="1446.8" y="947.8" width="4.4" height="5.4" fill="#6fa98a"/>
<rect x="1455" y="946" width="8" height="16" fill="#4f0703"/>
<rect x="1456.8" y="947.8" width="4.4" height="12.4" fill="#df5747"/>
<rect x="1466" y="962" width="8" height="56" fill="#4f0703"/>
<rect x="1467.8" y="963.8" width="4.4" height="52.4" fill="#df5747"/>
<rect x="1476" y="1018" width="8" height="16" fill="#4f0703"/>
<rect x="1477.8" y="1019.8" width="4.4" height="12.4" fill="#df5747"/>
<rect x="1486" y="1034" width="8" height="5" fill="#4f0703"/>
<rect x="1487.8" y="1035.8" width="4.4" height="1.4" fill="#df5747"/>
<rect x="1496" y="1015" width="8" height="24" fill="#114c2d"/>
<rect x="1497.8" y="1016.8" width="4.4" height="20.4" fill="#6fa98a"/>
<rect x="1506" y="997" width="8" height="18" fill="#114c2d"/>
<rect x="1507.8" y="998.8" width="4.4" height="14.4" fill="#6fa98a"/>
<rect x="1516" y="997" width="8" height="11" fill="#4f0703"/>
<rect x="1517.8" y="998.8" width="4.4" height="7.4" fill="#df5747"/>
<rect x="1527" y="973" width="8" height="35" fill="#114c2d"/>
<rect x="1528.8" y="974.8" width="4.4" height="31.4" fill="#6fa98a"/>
<rect x="1537" y="964" width="8" height="9" fill="#114c2d"/>
<rect x="1538.8" y="965.8" width="4.4" height="5.4" fill="#6fa98a"/>
<rect x="1547" y="964" width="8" height="4" fill="#4f0703"/>
<rect x="1548.8" y="965.8" width="4.4" height="0.4" fill="#df5747"/>
<rect x="1557" y="967" width="8" height="2" fill="#4f0703"/>
<rect x="1567" y="969" width="8" height="5" fill="#4f0703"/>
<rect x="1568.8" y="970.8" width="4.4" height="1.4" fill="#df5747"/>
<rect x="1577" y="974" width="8" height="46" fill="#4f0703"/>
<rect x="1578.8" y="975.8" width="4.4" height="42.4" fill="#df5747"/>
<rect x="1588" y="964" width="8" height="56" fill="#114c2d"/>
<rect x="1589.8" y="965.8" width="4.4" height="52.4" fill="#6fa98a"/>
<rect x="1598" y="940" width="8" height="24" fill="#114c2d"/>
<rect x="1599.8" y="941.8" width="4.4" height="20.4" fill="#6fa98a"/>
<rect x="1608" y="942" width="8" height="13" fill="#4f0703"/>
<rect x="1609.8" y="943.8" width="4.4" height="9.4" fill="#df5747"/>
<rect x="1618" y="955" width="8" height="30" fill="#4f0703"/>
<rect x="1619.8" y="956.8" width="4.4" height="26.4" fill="#df5747"/>
<rect x="1628" y="985" width="8" height="2" fill="#4f0703"/>
<rect x="1639" y="974" width="8" height="12" fill="#114c2d"/>
<rect x="1640.8" y="975.8" width="4.4" height="8.4" fill="#6fa98a"/>
<rect x="1649" y="971" width="8" height="3" fill="#114c2d"/>
<rect x="1659" y="949" width="8" height="22" fill="#114c2d"/>
<rect x="1660.8" y="950.8" width="4.4" height="18.4" fill="#6fa98a"/>
<rect x="1669" y="949" width="8" height="7" fill="#4f0703"/>
<rect x="1670.8" y="950.8" width="4.4" height="3.4" fill="#df5747"/>
<rect x="1679" y="951" width="8" height="5" fill="#114c2d"/>
<rect x="1680.8" y="952.8" width="4.4" height="1.4" fill="#6fa98a"/>
<rect x="1689" y="951" width="8" height="24" fill="#4f0703"/>
<rect x="1690.8" y="952.8" width="4.4" height="20.4" fill="#df5747"/>
<rect x="1700" y="974" width="8" height="2" fill="#4f0703"/>
<rect x="1710" y="975" width="8" height="25" fill="#4f0703"/>
<rect x="1711.8" y="976.8" width="4.4" height="21.4" fill="#df5747"/>
<rect x="1720" y="999" width="8" height="20" fill="#4f0703"/>
<rect x="1721.8" y="1000.8" width="4.4" height="16.4" fill="#df5747"/>
<rect x="1730" y="1002" width="8" height="17" fill="#114c2d"/>
<rect x="1731.8" y="1003.8" width="4.4" height="13.4" fill="#6fa98a"/>
<rect x="1740" y="1002" width="8" height="19" fill="#4f0703"/>
<rect x="1741.8" y="1003.8" width="4.4" height="15.4" fill="#df5747"/>
<rect x="1750" y="1022" width="8" height="8" fill="#4f0703"/>
<rect x="1751.8" y="1023.8" width="4.4" height="4.4" fill="#df5747"/>
<rect x="1761" y="1000" width="8" height="30" fill="#114c2d"/>
<rect x="1762.8" y="1001.8" width="4.4" height="26.4" fill="#6fa98a"/>
<rect x="1771" y="998" width="8" height="2" fill="#114c2d"/>
<rect x="1781" y="994" width="8" height="3" fill="#114c2d"/>
<rect x="1791" y="993" width="8" height="2" fill="#4f0703"/>
<rect x="1801" y="995" width="8" height="12" fill="#4f0703"/>
<rect x="1802.8" y="996.8" width="4.4" height="8.4" fill="#df5747"/>
<rect x="1811" y="1005" width="8" height="2" fill="#114c2d"/>
<rect x="1822" y="1006" width="8" height="4" fill="#4f0703"/>
<rect x="1823.8" y="1007.8" width="4.4" height="0.4" fill="#df5747"/>
<rect x="1832" y="1007" width="8" height="2" fill="#114c2d"/>
<rect x="1842" y="1004" width="8" height="4" fill="#114c2d"/>
<rect x="1843.8" y="1005.8" width="4.4" height="0.4" fill="#6fa98a"/>
<rect x="1852" y="1002" width="8" height="2" fill="#114c2d"/>
<rect x="1862" y="1003" width="8" height="7" fill="#4f0703"/>
<rect x="1863.8" y="1004.8" width="4.4" height="3.4" fill="#df5747"/>
<rect x="1873" y="997" width="8" height="14" fill="#114c2d"/>
<rect x="1874.8" y="998.8" width="4.4" height="10.4" fill="#6fa98a"/>
<rect x="1883" y="997" width="8" height="9" fill="#4f0703"/>
<rect x="1884.8" y="998.8" width="4.4" height="5.4" fill="#df5747"/>
<rect x="1893" y="992" width="8" height="15" fill="#114c2d"/>
<rect x="1894.8" y="993.8" width="4.4" height="11.4" fill="#6fa98a"/>
<rect x="1903" y="979" width="8" height="13" fill="#114c2d"/>
<rect x="1904.8" y="980.8" width="4.4" height="9.4" fill="#6fa98a"/>
<rect x="1913" y="973" width="8" height="6" fill="#114c2d"/>
<rect x="1914.8" y="974.8" width="4.4" height="2.4" fill="#6fa98a"/>
<rect x="1923" y="962" width="8" height="11" fill="#114c2d"/>
<rect x="1924.8" y="963.8" width="4.4" height="7.4" fill="#6fa98a"/>
<rect x="1934" y="936" width="8" height="26" fill="#114c2d"/>
<rect x="1935.8" y="937.8" width="4.4" height="22.4" fill="#6fa98a"/>
<rect x="1944" y="935" width="8" height="2" fill="#4f0703"/>
<rect x="1954" y="939" width="8" height="26" fill="#4f0703"/>
<rect x="1955.8" y="940.8" width="4.4" height="22.4" fill="#df5747"/>
<rect x="1964" y="965" width="8" height="3" fill="#4f0703"/>
<rect x="1974" y="968" width="8" height="5" fill="#4f0703"/>
<rect x="1975.8" y="969.8" width="4.4" height="1.4" fill="#df5747"/>
<rect x="1984" y="973" width="8" height="2" fill="#4f0703"/>
<rect x="1995" y="970" width="8" height="4" fill="#114c2d"/>
<rect x="1996.8" y="971.8" width="4.4" height="0.4" fill="#6fa98a"/>
<rect x="2005" y="966" width="8" height="3" fill="#114c2d"/>
<rect x="2015" y="922" width="8" height="44" fill="#114c2d"/>
<rect x="2016.8" y="923.8" width="4.4" height="40.4" fill="#6fa98a"/>
<rect x="2025" y="905" width="8" height="17" fill="#114c2d"/>
<rect x="2026.8" y="906.8" width="4.4" height="13.4" fill="#6fa98a"/>
<rect x="2035" y="905" width="8" height="13" fill="#4f0703"/>
<rect x="2036.8" y="906.8" width="4.4" height="9.4" fill="#df5747"/>
<rect x="2045" y="918" width="8" height="2" fill="#4f0703"/>
<rect x="2056" y="919" width="8" height="5" fill="#4f0703"/>
<rect x="2057.8" y="920.8" width="4.4" height="1.4" fill="#df5747"/>
<rect x="2066" y="924" width="8" height="15" fill="#4f0703"/>
<rect x="2067.8" y="925.8" width="4.4" height="11.4" fill="#df5747"/>
<rect x="2076" y="940" width="8" height="10" fill="#4f0703"/>
<rect x="2077.8" y="941.8" width="4.4" height="6.4" fill="#df5747"/>
<rect x="2086" y="950" width="8" height="48" fill="#4f0703"/>
<rect x="2087.8" y="951.8" width="4.4" height="44.4" fill="#df5747"/>
<rect x="2096" y="985" width="8" height="13" fill="#114c2d"/>
<rect x="2097.8" y="986.8" width="4.4" height="9.4" fill="#6fa98a"/>
<rect x="2106" y="983" width="8" height="2" fill="#114c2d"/>
<rect x="2117" y="983" width="8" height="2" fill="#114c2d"/>
<rect x="2127" y="984" width="8" height="4" fill="#4f0703"/>
<rect x="2128.8" y="985.8" width="4.4" height="0.4" fill="#df5747"/>
<rect x="2137" y="988" width="8" height="30" fill="#4f0703"/>
<rect x="2138.8" y="989.8" width="4.4" height="26.4" fill="#df5747"/>
<rect x="2147" y="998" width="8" height="20" fill="#114c2d"/>
<rect x="2148.8" y="999.8" width="4.4" height="16.4" fill="#6fa98a"/>
<rect x="2157" y="988" width="8" height="10" fill="#114c2d"/>
<rect x="2158.8" y="989.8" width="4.4" height="6.4" fill="#6fa98a"/>
<rect x="2168" y="986" width="8" height="2" fill="#114c2d"/>
<rect x="2178" y="988" width="8" height="53" fill="#4f0703"/>
<rect x="2179.8" y="989.8" width="4.4" height="49.4" fill="#df5747"/>
<rect x="2188" y="1041" width="8" height="5" fill="#4f0703"/>
<rect x="2189.8" y="1042.8" width="4.4" height="1.4" fill="#df5747"/>
<rect x="2198" y="1045" width="8" height="68" fill="#4f0703"/>
<rect x="2199.8" y="1046.8" width="4.4" height="64.4" fill="#df5747"/>
<rect x="2208" y="1112" width="8" height="24" fill="#4f0703"/>
<rect x="2209.8" y="1113.8" width="4.4" height="20.4" fill="#df5747"/>
<rect x="2218" y="1112" width="8" height="24" fill="#114c2d"/>
<rect x="2219.8" y="1113.8" width="4.4" height="20.4" fill="#6fa98a"/>
<rect x="2229" y="1109" width="8" height="4" fill="#114c2d"/>
<rect x="2230.8" y="1110.8" width="4.4" height="0.4" fill="#6fa98a"/>
</g>
<line x1="21.25" x2="2451" y1="1109" y2="1109" stroke="#5f9f7d" stroke-width="2" stroke-dasharray="2 4"/>
<rect x="20.25" y="355" width="2669.25" height="2" fill="#1c2030"/>
<rect x="2558" y="54" width="2" height="1453.5" fill="#47484a"/>
<rect x="20.25" y="1452" width="2669.25" height="2" fill="#47484a"/>
<g opacity="0.999" style="paint-order:stroke" stroke-width="0.35" stroke-linejoin="round">
<text x="19.39" y="40.10" font-family="Liberation Sans, sans-serif" font-size="23.3" fill="#e4e4e4" stroke="#e4e4e4" font-weight="normal" textLength="812.09" lengthAdjust="spacingAndGlyphs">bitcoinwallah created with TradingView.com, Feb 02, 2026 21:00 UTC-5</text>
<text x="35.24" y="93.70" font-family="Liberation Sans, sans-serif" font-size="23" fill="#4a4a4d" stroke="#4a4a4d" font-weight="normal" textLength="162.42" lengthAdjust="spacingAndGlyphs">RSI (14, close)</text>
<text x="212.12" y="93.70" font-family="Liberation Sans, sans-serif" font-size="23" fill="#7e57c2" stroke="#7e57c2" font-weight="normal" textLength="61.22" lengthAdjust="spacingAndGlyphs">30.13</text>
<text x="287.28" y="93.70" font-family="Liberation Sans, sans-serif" font-size="23" fill="#fdd835" stroke="#fdd835" font-weight="normal" textLength="64.07" lengthAdjust="spacingAndGlyphs">36.97</text>
<g clip-path="url(#ca)">
<text x="2575.74" y="67.00" font-family="Liberation Sans, sans-serif" font-size="22" fill="#4a4a4d" stroke="#4a4a4d" font-weight="normal" textLength="62.12" lengthAdjust="spacingAndGlyphs">80.00</text>
<text x="2575.74" y="165.00" font-family="Liberation Sans, sans-serif" font-size="22" fill="#4a4a4d" stroke="#4a4a4d" font-weight="normal" textLength="62.12" lengthAdjust="spacingAndGlyphs">60.00</text>
<text x="2575.74" y="262.20" font-family="Liberation Sans, sans-serif" font-size="22" fill="#4a4a4d" stroke="#4a4a4d" font-weight="normal" textLength="62.12" lengthAdjust="spacingAndGlyphs">40.00</text>
<text x="2575.74" y="359.50" font-family="Liberation Sans, sans-serif" font-size="22" fill="#4a4a4d" stroke="#4a4a4d" font-weight="normal" textLength="62.12" lengthAdjust="spacingAndGlyphs">20.00</text>
</g>
<text x="35.81" y="396.70" font-family="Liberation Sans, sans-serif" font-size="23" fill="#4a4a4d" stroke="#4a4a4d" font-weight="normal" textLength="388.60" lengthAdjust="spacingAndGlyphs">Bitcoin / U.S. Dollar · 1D · Bitstamp</text>
<text x="437.04" y="396.7" font-family="Liberation Sans, sans-serif" font-size="23" textLength="98.83" lengthAdjust="spacingAndGlyphs"><tspan fill="#4a4a4d">O</tspan><tspan fill="#1d5a35">78,666</tspan></text>
<text x="548.14" y="396.7" font-family="Liberation Sans, sans-serif" font-size="23" textLength="90.88" lengthAdjust="spacingAndGlyphs"><tspan fill="#4a4a4d">H</tspan><tspan fill="#1d5a35">79,113</tspan></text>
<text x="651.40" y="396.7" font-family="Liberation Sans, sans-serif" font-size="23" textLength="94.77" lengthAdjust="spacingAndGlyphs"><tspan fill="#4a4a4d">L</tspan><tspan fill="#1d5a35">78,349</tspan></text>
<text x="759.01" y="396.7" font-family="Liberation Sans, sans-serif" font-size="23" textLength="97.37" lengthAdjust="spacingAndGlyphs"><tspan fill="#4a4a4d">C</tspan><tspan fill="#1d5a35">78,909</tspan></text>
<text x="869.53" y="396.70" font-family="Liberation Sans, sans-serif" font-size="23" fill="#1d5a35" stroke="#1d5a35" font-weight="normal" textLength="168.52" lengthAdjust="spacingAndGlyphs">+243 (+0.31%)</text>
<text x="35.77" y="430.60" font-family="Liberation Sans, sans-serif" font-size="23" fill="#4a4a4d" stroke="#4a4a4d" font-weight="normal" textLength="178.73" lengthAdjust="spacingAndGlyphs">EMA (50, close)</text>
<text x="229.04" y="430.60" font-family="Liberation Sans, sans-serif" font-size="23" fill="#f23645" stroke="#f23645" font-weight="normal" textLength="80.98" lengthAdjust="spacingAndGlyphs">88,885</text>
<text x="35.77" y="464.60" font-family="Liberation Sans, sans-serif" font-size="23" fill="#4a4a4d" stroke="#4a4a4d" font-weight="normal" textLength="193.27" lengthAdjust="spacingAndGlyphs">EMA (200, close)</text>
<text x="243.65" y="464.60" font-family="Liberation Sans, sans-serif" font-size="23" fill="#2962ff" stroke="#2962ff" font-weight="normal" textLength="71.47" lengthAdjust="spacingAndGlyphs">97,371</text>
<text x="36.88" y="498.60" font-family="Liberation Sans, sans-serif" font-size="23" fill="#4a4a4d" stroke="#4a4a4d" font-weight="normal" textLength="102.25" lengthAdjust="spacingAndGlyphs">Vol · BTC</text>
<text x="152.67" y="498.60" font-family="Liberation Sans, sans-serif" font-size="23" fill="#26a69a" stroke="#26a69a" font-weight="normal" textLength="44.35" lengthAdjust="spacingAndGlyphs">250</text>
<text x="35.78" y="532.60" font-family="Liberation Sans, sans-serif" font-size="23" fill="#4a4a4d" stroke="#4a4a4d" font-weight="normal" textLength="178.02" lengthAdjust="spacingAndGlyphs">EMA (20, close)</text>
<text x="228.85" y="532.60" font-family="Liberation Sans, sans-serif" font-size="23" fill="#056656" stroke="#056656" font-weight="normal" textLength="80.06" lengthAdjust="spacingAndGlyphs">85,605</text>
<text x="35.80" y="566.60" font-family="Liberation Sans, sans-serif" font-size="23" fill="#4a4a4d" stroke="#4a4a4d" font-weight="normal" textLength="189.90" lengthAdjust="spacingAndGlyphs">EMA (100, close)</text>
<text x="240.11" y="566.60" font-family="Liberation Sans, sans-serif" font-size="23" fill="#5b2fc4" stroke="#5b2fc4" font-weight="normal" textLength="80.92" lengthAdjust="spacingAndGlyphs">93,044</text>
<text x="2575.74" y="476.30" font-family="Liberation Sans, sans-serif" font-size="22" fill="#4a4a4d" stroke="#4a4a4d" font-weight="normal" textLength="89.73" lengthAdjust="spacingAndGlyphs">150,000</text>
<text x="2575.74" y="545.30" font-family="Liberation Sans, sans-serif" font-size="22" fill="#4a4a4d" stroke="#4a4a4d" font-weight="normal" textLength="89.73" lengthAdjust="spacingAndGlyphs">140,000</text>
<text x="2575.74" y="618.30" font-family="Liberation Sans, sans-serif" font-size="22" fill="#4a4a4d" stroke="#4a4a4d" font-weight="normal" textLength="89.73" lengthAdjust="spacingAndGlyphs">130,000</text>
<text x="2575.74" y="682.30" font-family="Liberation Sans, sans-serif" font-size="22" fill="#4a4a4d" stroke="#4a4a4d" font-weight="normal" textLength="89.73" lengthAdjust="spacingAndGlyphs">122,000</text>
<text x="2575.74" y="749.30" font-family="Liberation Sans, sans-serif" font-size="22" fill="#4a4a4d" stroke="#4a4a4d" font-weight="normal" textLength="87.88" lengthAdjust="spacingAndGlyphs">114,000</text>
<text x="2575.74" y="821.30" font-family="Liberation Sans, sans-serif" font-size="22" fill="#4a4a4d" stroke="#4a4a4d" font-weight="normal" textLength="89.73" lengthAdjust="spacingAndGlyphs">106,000</text>
<text x="2575.74" y="899.30" font-family="Liberation Sans, sans-serif" font-size="22" fill="#4a4a4d" stroke="#4a4a4d" font-weight="normal" textLength="75.92" lengthAdjust="spacingAndGlyphs">98,000</text>
<text x="2575.74" y="979.30" font-family="Liberation Sans, sans-serif" font-size="22" fill="#4a4a4d" stroke="#4a4a4d" font-weight="normal" textLength="75.92" lengthAdjust="spacingAndGlyphs">90,500</text>
<text x="2575.74" y="1047.30" font-family="Liberation Sans, sans-serif" font-size="22" fill="#4a4a4d" stroke="#4a4a4d" font-weight="normal" textLength="75.92" lengthAdjust="spacingAndGlyphs">84,500</text>
<text x="2575.74" y="1198.30" font-family="Liberation Sans, sans-serif" font-size="22" fill="#4a4a4d" stroke="#4a4a4d" font-weight="normal" textLength="75.92" lengthAdjust="spacingAndGlyphs">72,500</text>
<text x="2575.74" y="1256.30" font-family="Liberation Sans, sans-serif" font-size="22" fill="#4a4a4d" stroke="#4a4a4d" font-weight="normal" textLength="75.92" lengthAdjust="spacingAndGlyphs">68,500</text>
<text x="2575.74" y="1316.30" font-family="Liberation Sans, sans-serif" font-size="22" fill="#4a4a4d" stroke="#4a4a4d" font-weight="normal" textLength="75.92" lengthAdjust="spacingAndGlyphs">64,500</text>
<text x="2575.74" y="1379.30" font-family="Liberation Sans, sans-serif" font-size="22" fill="#4a4a4d" stroke="#4a4a4d" font-weight="normal" textLength="75.92" lengthAdjust="spacingAndGlyphs">60,500</text>
<text x="2575.74" y="1438.30" font-family="Liberation Sans, sans-serif" font-size="22" fill="#4a4a4d" stroke="#4a4a4d" font-weight="normal" textLength="75.92" lengthAdjust="spacingAndGlyphs">57,000</text>
<rect x="2566" y="365" width="116" height="52" rx="9" fill="#ffffff"/>
<text x="2584.50" y="399.20" font-family="Liberation Sans, sans-serif" font-size="23" fill="#0a0c12" stroke="#0a0c12" font-weight="normal" textLength="50.61" lengthAdjust="spacingAndGlyphs">USD</text>
<path d="M2455,1093 H2559 V1125 H2455 a4,4 0 0 1 -4,-4 V1097 a4,4 0 0 1 4,-4 Z" fill="#6ba583"/>
<path d="M2559,1093 H2678.500 a4,4 0 0 1 4,4 V1146.500 a4,4 0 0 1 -4,4 H2559 Z" fill="#6ba583"/>
<rect x="2558" y="1093" width="2" height="57.5" fill="#47484a"/>
<text x="2459.03" y="1116.70" font-family="Liberation Sans, sans-serif" font-size="21.5" fill="#ffffff" stroke="#ffffff" font-weight="normal" textLength="90.79" lengthAdjust="spacingAndGlyphs">BTCUSD</text>
<text x="2575.74" y="1115.00" font-family="Liberation Sans, sans-serif" font-size="22" fill="#ffffff" stroke="#ffffff" font-weight="normal" textLength="75.92" lengthAdjust="spacingAndGlyphs">78,909</text>
<text x="2575.74" y="1141.00" font-family="Liberation Sans, sans-serif" font-size="22" fill="#d3e6da" stroke="#d3e6da" font-weight="normal" textLength="96.62" lengthAdjust="spacingAndGlyphs">21:59:02</text>
<g clip-path="url(#ct)">
<text x="20.23" y="1488.30" font-family="Liberation Sans, sans-serif" font-size="22" fill="#4a4a4d" stroke="#4a4a4d" font-weight="normal" textLength="21.24" lengthAdjust="spacingAndGlyphs">ul</text>
<text x="320.20" y="1488.30" font-family="Liberation Sans, sans-serif" font-size="22" fill="#4a4a4d" stroke="#4a4a4d" font-weight="normal" textLength="40.97" lengthAdjust="spacingAndGlyphs">Aug</text>
<text x="635.15" y="1488.30" font-family="Liberation Sans, sans-serif" font-size="22" fill="#4a4a4d" stroke="#4a4a4d" font-weight="normal" textLength="41.57" lengthAdjust="spacingAndGlyphs">Sep</text>
<text x="941.18" y="1488.30" font-family="Liberation Sans, sans-serif" font-size="22" fill="#4a4a4d" stroke="#4a4a4d" font-weight="normal" textLength="38.66" lengthAdjust="spacingAndGlyphs">Oct</text>
<text x="1254.28" y="1488.30" font-family="Liberation Sans, sans-serif" font-size="22" fill="#4a4a4d" stroke="#4a4a4d" font-weight="normal" textLength="41.65" lengthAdjust="spacingAndGlyphs">Nov</text>
<text x="1558.93" y="1488.30" font-family="Liberation Sans, sans-serif" font-size="22" fill="#4a4a4d" stroke="#4a4a4d" font-weight="normal" textLength="42.79" lengthAdjust="spacingAndGlyphs">Dec</text>
<text x="1867.57" y="1488.30" font-family="Liberation Sans, sans-serif" font-size="22" fill="#4a4a4d" stroke="#4a4a4d" font-weight="bold" textLength="58.84" lengthAdjust="spacingAndGlyphs">2026</text>
<text x="2191.38" y="1488.30" font-family="Liberation Sans, sans-serif" font-size="22" fill="#4a4a4d" stroke="#4a4a4d" font-weight="normal" textLength="40.39" lengthAdjust="spacingAndGlyphs">Feb</text>
<text x="2475.20" y="1488.30" font-family="Liberation Sans, sans-serif" font-size="22" fill="#4a4a4d" stroke="#4a4a4d" font-weight="normal" textLength="41.95" lengthAdjust="spacingAndGlyphs">Mar</text>
</g>
<path d="M24,1552 H48 V1582 H36 V1564.500 H24 Z" fill="#dcdcdc"/><circle cx="58" cy="1558" r="6" fill="#dcdcdc"/><path d="M70,1552 H84 L72,1582 H58 Z" fill="#dcdcdc"/>
<text x="97.19" y="1582" font-family="Liberation Sans, sans-serif" font-size="41" fill="#dcdcdc" stroke="#1f1f1f" stroke-width="0.5" style="paint-order:normal" font-weight="bold" textLength="243.10" lengthAdjust="spacingAndGlyphs">TradingView</text>
</g>
</svg>
</body></html>
